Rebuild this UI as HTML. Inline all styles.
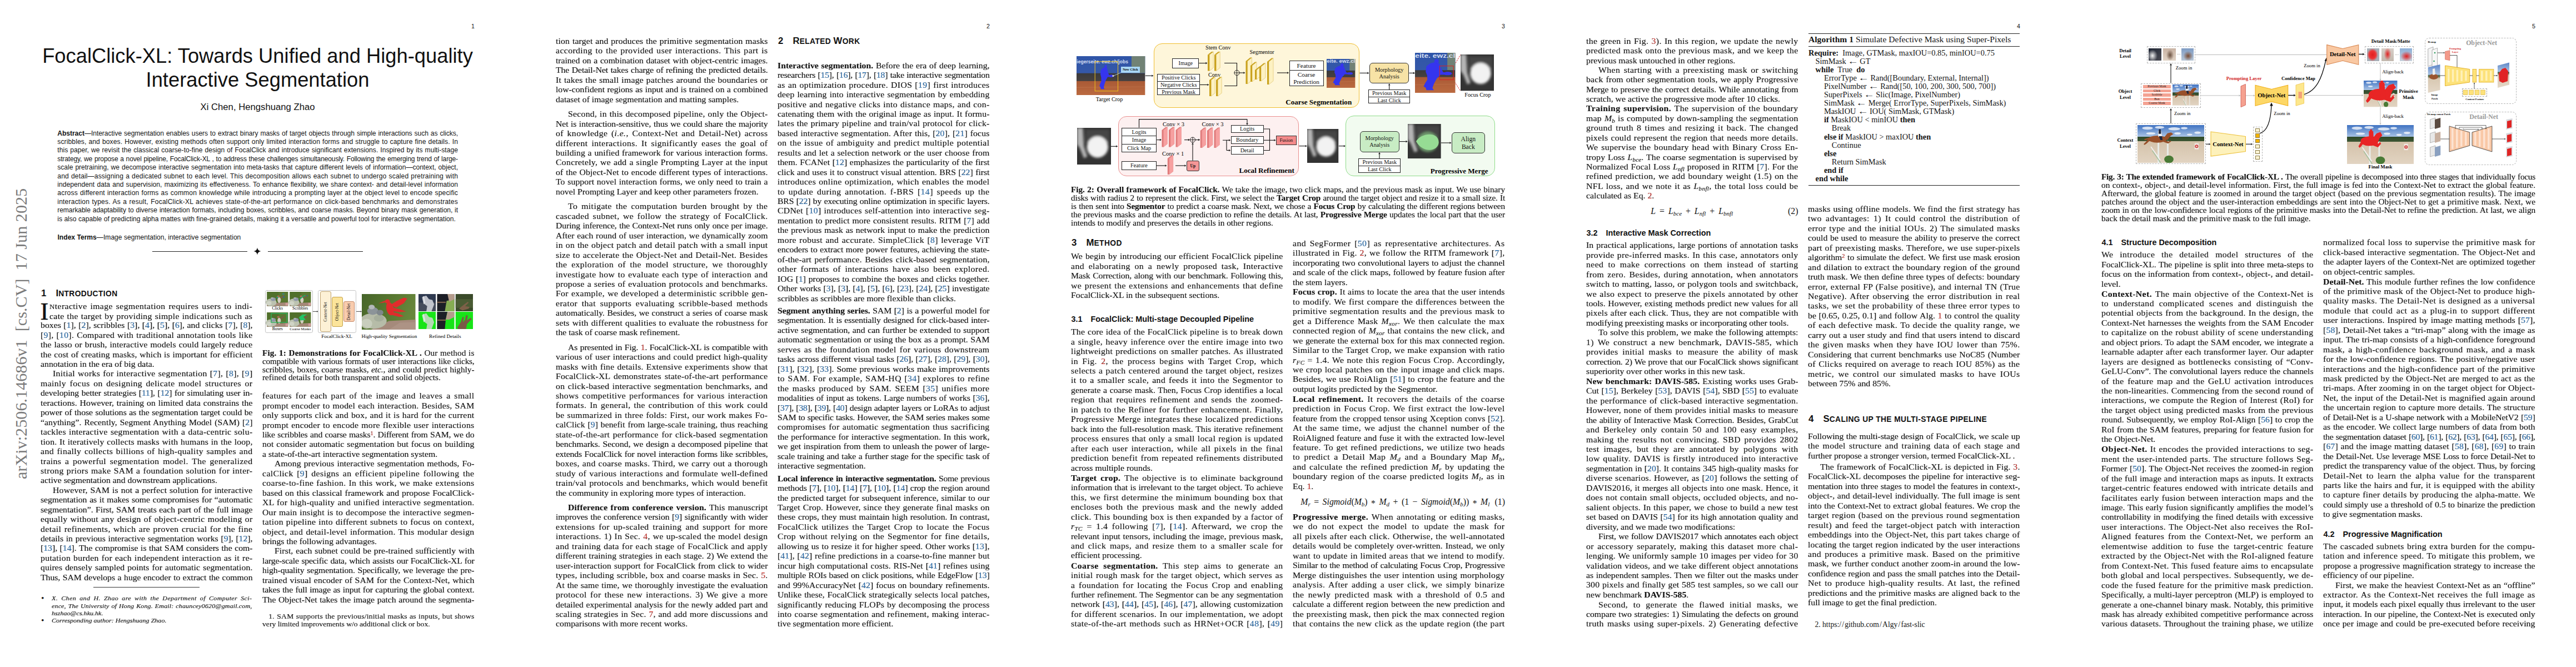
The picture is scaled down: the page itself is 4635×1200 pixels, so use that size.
<!DOCTYPE html><html><head><meta charset="utf-8"><title>FocalClick-XL</title><style>

*{margin:0;padding:0}
html,body{width:4635px;height:1200px;overflow:hidden;background:#fff}
body{position:relative;font-family:"Liberation Serif",serif;color:#111}
.pg{position:absolute;top:0;width:927px;height:1200px;overflow:hidden;background:#fff}
.ab{position:absolute}
.b{position:absolute;font-family:"Liberation Serif",serif;color:#141414;-webkit-text-stroke:0.15px #141414}
.b>div{white-space:nowrap;overflow:visible}
.b.sans{font-family:"Liberation Sans",sans-serif;-webkit-text-stroke:0}
.j{text-align:justify;text-align-last:justify}
.l{text-align:left}
.cb{color:#2a78c2}
.cr{color:#e0302a}
sup{font-size:65%;line-height:0;vertical-align:0.45em}
sub{font-size:70%;line-height:0;vertical-align:-0.25em}
i.m{font-style:italic}
.h1{position:absolute;font-family:"Liberation Sans",sans-serif;font-weight:bold;white-space:nowrap;color:#111}
.h2{position:absolute;font-family:"Liberation Sans",sans-serif;font-weight:bold;white-space:nowrap;color:#111}

</style></head><body>
<div class="pg" style="left:0px">
<div class="ab" style="right:73.00px;top:41.00px;font-family:'Liberation Sans',sans-serif;font-size:10.6px;line-height:12.719999999999999px;">1</div>
<div class="ab" style="left:0.00px;top:79.00px;width:927px;text-align:center;font-family:'Liberation Sans',sans-serif;font-size:36.35px;line-height:43.62px;letter-spacing:0px;">FocalClick-XL: Towards Unified and High-quality</div>
<div class="ab" style="left:0.00px;top:122.00px;width:927px;text-align:center;font-family:'Liberation Sans',sans-serif;font-size:36.35px;line-height:43.62px;">Interactive Segmentation</div>
<div class="ab" style="left:0.00px;top:183.00px;width:927px;text-align:center;font-family:'Liberation Sans',sans-serif;font-size:16.7px;line-height:20.04px;">Xi Chen, Hengshuang Zhao</div>
<div class="b sans " style="left:103.30px;top:232.50px;width:720.70px;font-size:12.1px;line-height:15.400px;">
<div id="t1" class="j" style="letter-spacing:-0.060px;"><b>Abstract</b>—Interactive segmentation enables users to extract binary masks of target objects through simple interactions such as clicks,</div>
<div id="t2" class="j" style="letter-spacing:0.096px;">scribbles, and boxes. However, existing methods often support only limited interaction forms and struggle to capture fine details. In</div>
<div id="t3" class="j" style="letter-spacing:0.025px;">this paper, we revisit the classical coarse-to-fine design of FocalClick and introduce significant extensions. Inspired by its multi-stage</div>
<div id="t4" class="j" style="letter-spacing:-0.170px;">strategy, we propose a novel pipeline, FocalClick-XL , to address these challenges simultaneously. Following the emerging trend of large-</div>
<div id="t5" class="j" style="letter-spacing:-0.038px;">scale pretraining, we decompose interactive segmentation into meta-tasks that capture different levels of information—context, object,</div>
<div id="t6" class="j" style="letter-spacing:0.123px;">and detail—assigning a dedicated subnet to each level. This decomposition allows each subnet to undergo scaled pretraining with</div>
<div id="t7" class="j" style="letter-spacing:0.035px;">independent data and supervision, maximizing its effectiveness. To enhance flexibility, we share context- and detail-level information</div>
<div id="t8" class="j" style="letter-spacing:0.153px;">across different interaction forms as common knowledge while introducing a prompting layer at the object level to encode specific</div>
<div id="t9" class="j" style="letter-spacing:0.180px;">interaction types. As a result, FocalClick-XL achieves state-of-the-art performance on click-based benchmarks and demonstrates</div>
<div id="t10" class="j" style="letter-spacing:-0.095px;">remarkable adaptability to diverse interaction formats, including boxes, scribbles, and coarse masks. Beyond binary mask generation, it</div>
<div id="t11" class="l">is also capable of predicting alpha mattes with fine-grained details, making it a versatile and powerful tool for interactive segmentation.</div>
</div>
<div class="ab" style="left:103.50px;top:420.40px;text-align:left;font-family:'Liberation Sans',sans-serif;font-size:12.1px;line-height:14.52px;"><b>Index Terms</b>—Image segmentation, interactive segmentation</div>
<div class="ab" style="left:273.9px;top:451.8px;width:171.3px;height:1px;background:#222"></div>
<div class="ab" style="left:481.6px;top:451.8px;width:171.4px;height:1px;background:#222"></div>
<svg class="ab" style="left:456px;top:445px" width="14" height="14" viewBox="0 0 14 14"><path d="M7 0.5 Q7.8 6.2 13.5 7 Q7.8 7.8 7 13.5 Q6.2 7.8 0.5 7 Q6.2 6.2 7 0.5Z" fill="#111"/></svg>
<div class="ab" style="left:47.2px;top:862px;transform-origin:0 0;transform:rotate(-90deg);font-family:'Liberation Serif',serif;font-size:30.2px;line-height:31px;white-space:nowrap;color:#7a7a7a"><span style="position:relative;top:-24.5px">arXiv:2506.14686v1&nbsp; [cs.CV]&nbsp; 17 Jun 2025</span></div>
<div class="h1" style="left:74.0px;top:517.70px;font-size:16.8px;line-height:20px"><span style="display:inline-block;width:26.5px">1</span>I<span style="font-size:13.8px;letter-spacing:0.4px">NTRODUCTION</span></div>
<div class="ab" style="left:72.4px;top:538.8px;font-family:'Liberation Serif',serif;font-size:44.2px;line-height:44.2px;color:#111;-webkit-text-stroke:0.5px #111">I</div>
<div class="b " style="left:89.30px;top:542.50px;width:332.91px;font-size:14.403px;line-height:17.450px;transform:scaleX(1.097);transform-origin:0 0;">
<div id="t12" class="j" style="letter-spacing:0.350px;"><span style="font-size:82%">N</span>teractive image segmentation requires users to indi-</div>
<div id="t13" class="j" style="letter-spacing:0.285px;">cate the target by providing simple indications such as</div>
</div>
<div class="b " style="left:73.00px;top:577.40px;width:347.77px;font-size:14.403px;line-height:17.450px;transform:scaleX(1.097);transform-origin:0 0;">
<div id="t14" class="j" style="letter-spacing:0.012px;">boxes [<span class=cb>1</span>], [<span class=cb>2</span>], scribbles [<span class=cb>3</span>], [<span class=cb>4</span>], [<span class=cb>5</span>], [<span class=cb>6</span>], and clicks [<span class=cb>7</span>], [<span class=cb>8</span>],</div>
<div id="t15" class="j" style="letter-spacing:0.249px;">[<span class=cb>9</span>], [<span class=cb>10</span>]. Compared with traditional annotation tools like</div>
<div id="t16" class="j" style="letter-spacing:0.128px;">the lasso or brush, interactive models could largely reduce</div>
<div id="t17" class="j" style="letter-spacing:0.105px;">the cost of creating masks, which is important for efficient</div>
<div id="t18" class="l">annotation in the era of big data.</div>
<div id="t19" class="j" style="text-indent:20.054694621695532px;margin-top:-0.20px;letter-spacing:0.291px;">Initial works for interactive segmentation [<span class=cb>7</span>], [<span class=cb>8</span>], [<span class=cb>9</span>]</div>
<div id="t20" class="j" style="letter-spacing:0.350px;">mainly focus on designing delicate model structures or</div>
<div id="t21" class="j" style="letter-spacing:-0.092px;">developing better strategies [<span class=cb>11</span>], [<span class=cb>12</span>] for simulating user in-</div>
<div id="t22" class="j" style="letter-spacing:0.037px;">teractions. However, training on limited data constrains the</div>
<div id="t23" class="j" style="letter-spacing:-0.075px;">power of those solutions as the segmentation target could be</div>
<div id="t24" class="j" style="letter-spacing:0.025px;">“anything”. Recently, Segment Anything Model (SAM) [<span class=cb>2</span>]</div>
<div id="t25" class="j" style="letter-spacing:0.257px;">tackles interactive segmentation with a data-centric solu-</div>
<div id="t26" class="j" style="letter-spacing:0.147px;">tion. It iteratively collects masks with humans in the loop,</div>
<div id="t27" class="j" style="letter-spacing:0.350px;">and finally collects billions of high-quality samples and</div>
<div id="t28" class="j" style="letter-spacing:0.350px;">trains a powerful segmentation model. The generalized</div>
<div id="t29" class="j" style="letter-spacing:0.347px;">strong priors make SAM a foundation solution for inter-</div>
<div id="t30" class="l">active segmentation and downstream applications.</div>
<div id="t31" class="j" style="text-indent:20.054694621695532px;margin-top:-0.20px;letter-spacing:0.164px;">However, SAM is not a perfect solution for interactive</div>
<div id="t32" class="j" style="letter-spacing:-0.056px;">segmentation as it makes some compromises for “automatic</div>
<div id="t33" class="j" style="letter-spacing:-0.039px;">segmentation”. First, SAM treats each part of the full image</div>
<div id="t34" class="j" style="letter-spacing:0.273px;">equally without any design of object-centric modeling or</div>
<div id="t35" class="j" style="letter-spacing:0.350px;">detail refinements, which are proven crucial for the fine</div>
<div id="t36" class="j" style="letter-spacing:-0.025px;">details in previous interactive segmentation works [<span class=cb>9</span>], [<span class=cb>12</span>],</div>
<div id="t37" class="j" style="letter-spacing:-0.037px;">[<span class=cb>13</span>], [<span class=cb>14</span>]. The compromise is that SAM considers the com-</div>
<div id="t38" class="j" style="letter-spacing:0.270px;">putation burden for each independent interaction as it re-</div>
<div id="t39" class="j" style="letter-spacing:0.085px;">quires densely sampled points for automatic segmentation.</div>
<div id="t40" class="j" style="letter-spacing:-0.050px;">Thus, SAM develops a huge encoder to extract the common</div>
</div>
<div class="ab" style="left:168px;top:1055.5px;width:190.5px;height:0.8px;background:#333"></div>
<div class="b " style="left:93.00px;top:1070.40px;width:328.62px;font-size:10.994px;line-height:13.270px;transform:scaleX(1.097);transform-origin:0 0;">
<div id="t41" class="j" style="letter-spacing:0.350px;"><i>X. Chen and H. Zhao are with the Department of Computer Sci-</i></div>
<div id="t42" class="j" style="letter-spacing:0.117px;"><i>ence, The University of Hong Kong. Email: chauncey0620@gmail.com,</i></div>
<div id="t43" class="l"><i>hszhao@cs.hku.hk.</i></div>
<div id="t44" class="l"><i>Corresponding author: Hengshuang Zhao.</i></div>
</div>
<div class="ab" style="left:74.00px;top:1067.20px;text-align:left;font-family:'Liberation Serif',serif;font-size:15.5px;line-height:18.599999999999998px;">•</div>
<div class="ab" style="left:74.00px;top:1107.10px;text-align:left;font-family:'Liberation Serif',serif;font-size:15.5px;line-height:18.599999999999998px;">•</div>
<div class="ab " style="left:477.3px;top:521.8px;width:85.4px;height:77.2px;border:1.2px dotted #8a8a8a;border-radius:4px;box-sizing:border-box;"></div>
<div class="ab " style="left:572.3px;top:521.8px;width:68.8px;height:77.2px;border:1.2px dotted #8a8a8a;border-radius:4px;box-sizing:border-box;"></div>
<svg class="ab" style="left:478.0px;top:523.0px" width="84.0" height="67.0" viewBox="478.0 523.0 84.0 67.0"><g transform="translate(480.20,525.00) scale(38.100,25.600)"><rect width="1" height="1" fill="#50702b"/><rect x="0.55" width="0.45" height="0.7" fill="#5c7c34" opacity="0.7"/><polygon points="0,0.8 1,0.74 1,1 0,1" fill="#a58878"/><rect x="0.88" y="0.78" width="0.12" height="0.18" fill="#d9a3a3" opacity="0.8"/><ellipse cx="0.2" cy="0.74" rx="0.26" ry="0.26" fill="#bcc2b0"/><ellipse cx="0.1" cy="0.8" rx="0.12" ry="0.15" fill="#d4d8cc" opacity="0.8"/><ellipse cx="0.3" cy="0.52" rx="0.12" ry="0.12" fill="#8d96a6"/><ellipse cx="0.25" cy="0.45" rx="0.07" ry="0.07" fill="#a8aeb0"/><ellipse cx="0.58" cy="0.58" rx="0.08" ry="0.2" fill="#d2cdc0"/><ellipse cx="0.54" cy="0.32" rx="0.06" ry="0.07" fill="#b06a55"/><polygon points="0.62,0.4 0.8,0.22 0.84,0.3 0.66,0.5" fill="#7a5a48" opacity="0.8"/></g><circle cx="499" cy="535" r="1.5" fill="#1fa080"/><circle cx="509.8" cy="529" r="1.4" fill="none" stroke="#2a8ab0" stroke-width="0.8"/><circle cx="510.8" cy="534.4" r="1.4" fill="#2a6a9a"/><g transform="translate(521.20,525.00) scale(38.100,25.600)"><rect width="1" height="1" fill="#50702b"/><rect x="0.55" width="0.45" height="0.7" fill="#5c7c34" opacity="0.7"/><polygon points="0,0.8 1,0.74 1,1 0,1" fill="#a58878"/><rect x="0.88" y="0.78" width="0.12" height="0.18" fill="#d9a3a3" opacity="0.8"/><ellipse cx="0.2" cy="0.74" rx="0.26" ry="0.26" fill="#bcc2b0"/><ellipse cx="0.1" cy="0.8" rx="0.12" ry="0.15" fill="#d4d8cc" opacity="0.8"/><ellipse cx="0.3" cy="0.52" rx="0.12" ry="0.12" fill="#8d96a6"/><ellipse cx="0.25" cy="0.45" rx="0.07" ry="0.07" fill="#a8aeb0"/><ellipse cx="0.58" cy="0.58" rx="0.08" ry="0.2" fill="#d2cdc0"/><ellipse cx="0.54" cy="0.32" rx="0.06" ry="0.07" fill="#b06a55"/><polygon points="0.62,0.4 0.8,0.22 0.84,0.3 0.66,0.5" fill="#7a5a48" opacity="0.8"/></g><path d="M539.5 538 L544 534 L549 531.5" stroke="#1faa66" stroke-width="1.8" fill="none" stroke-linecap="round"/><circle cx="553" cy="532" r="1.1" fill="#2a6a9a"/><g transform="translate(480.20,562.00) scale(38.100,25.800)"><rect width="1" height="1" fill="#50702b"/><rect x="0.55" width="0.45" height="0.7" fill="#5c7c34" opacity="0.7"/><polygon points="0,0.8 1,0.74 1,1 0,1" fill="#a58878"/><rect x="0.88" y="0.78" width="0.12" height="0.18" fill="#d9a3a3" opacity="0.8"/><ellipse cx="0.2" cy="0.74" rx="0.26" ry="0.26" fill="#bcc2b0"/><ellipse cx="0.1" cy="0.8" rx="0.12" ry="0.15" fill="#d4d8cc" opacity="0.8"/><ellipse cx="0.3" cy="0.52" rx="0.12" ry="0.12" fill="#8d96a6"/><ellipse cx="0.25" cy="0.45" rx="0.07" ry="0.07" fill="#a8aeb0"/><ellipse cx="0.58" cy="0.58" rx="0.08" ry="0.2" fill="#d2cdc0"/><ellipse cx="0.54" cy="0.32" rx="0.06" ry="0.07" fill="#b06a55"/><polygon points="0.62,0.4 0.8,0.22 0.84,0.3 0.66,0.5" fill="#7a5a48" opacity="0.8"/></g><rect x="488" y="563.8" width="28.2" height="16.2" fill="none" stroke="#2fb060" stroke-width="1.4"/><g transform="translate(521.20,562.00) scale(38.100,25.800)"><rect width="1" height="1" fill="#50702b"/><rect x="0.55" width="0.45" height="0.7" fill="#5c7c34" opacity="0.7"/><polygon points="0,0.8 1,0.74 1,1 0,1" fill="#a58878"/><rect x="0.88" y="0.78" width="0.12" height="0.18" fill="#d9a3a3" opacity="0.8"/><ellipse cx="0.2" cy="0.74" rx="0.26" ry="0.26" fill="#bcc2b0"/><ellipse cx="0.1" cy="0.8" rx="0.12" ry="0.15" fill="#d4d8cc" opacity="0.8"/><ellipse cx="0.3" cy="0.52" rx="0.12" ry="0.12" fill="#8d96a6"/><ellipse cx="0.25" cy="0.45" rx="0.07" ry="0.07" fill="#a8aeb0"/><ellipse cx="0.58" cy="0.58" rx="0.08" ry="0.2" fill="#d2cdc0"/><ellipse cx="0.54" cy="0.32" rx="0.06" ry="0.07" fill="#b06a55"/><polygon points="0.62,0.4 0.8,0.22 0.84,0.3 0.66,0.5" fill="#7a5a48" opacity="0.8"/></g><path d="M537.8 571 L544 566 L552.8 565.6 L546 570 L550 575.5 L541 576.4 Z" fill="#22c466"/></svg>
<div class="ab" style="left:299.2px;width:400px;text-align:center;top:549.8px;font-family:'Liberation Serif',serif;font-size:7.6px;line-height:9.12px;height:9.12px;white-space:nowrap;color:#000;">Clicks</div>
<div class="ab" style="left:340.2px;width:400px;text-align:center;top:549.8px;font-family:'Liberation Serif',serif;font-size:7.6px;line-height:9.12px;height:9.12px;white-space:nowrap;color:#000;">Scribbles</div>
<div class="ab" style="left:299.2px;width:400px;text-align:center;top:587.0px;font-family:'Liberation Serif',serif;font-size:7.6px;line-height:9.12px;height:9.12px;white-space:nowrap;color:#000;">Boxes</div>
<div class="ab" style="left:340.2px;width:400px;text-align:center;top:587.8px;font-family:'Liberation Serif',serif;font-size:6.7px;line-height:8.04px;height:8.04px;white-space:nowrap;color:#000;">Coarse Masks</div>
<svg class="ab" style="left:560.0px;top:555.0px" width="93.0" height="11.0" viewBox="560.0 555.0 93.0 11.0"><line x1="562.7" y1="560.4" x2="570.0" y2="560.4" stroke="#333" stroke-width="0.9"/><polygon points="572.5,560.4 570.0,561.8 570.0,559.0" fill="#333"/><line x1="641.1" y1="560.4" x2="648.5" y2="560.4" stroke="#333" stroke-width="0.9"/><polygon points="651.0,560.4 648.5,561.8 648.5,559.0" fill="#333"/></svg>
<div class="ab " style="left:575.7px;top:524.4px;width:20.0px;height:72.4px;background:#fdf1d6;border:1px solid #bfa26e;border-radius:3px;box-sizing:border-box;"></div>
<div class="ab" style="left:545.7px;top:555.6px;width:80px;height:10px;line-height:10px;text-align:center;font-family:'Liberation Serif',serif;font-size:7.2px;transform:rotate(-90deg)">Context-Net</div>
<div class="ab " style="left:597.2px;top:533.5px;width:19.4px;height:54.9px;background:#fce49a;border:1px solid #c4a24a;border-radius:3px;box-sizing:border-box;"></div>
<div class="ab" style="left:566.9px;top:556.0px;width:80px;height:10px;line-height:10px;text-align:center;font-family:'Liberation Serif',serif;font-size:7.2px;transform:rotate(-90deg)">Object-Net</div>
<div class="ab " style="left:618.0px;top:542.3px;width:19.5px;height:37.0px;background:#f9ccae;border:1px solid #c48a6a;border-radius:3px;box-sizing:border-box;"></div>
<div class="ab" style="left:587.8px;top:555.8px;width:80px;height:10px;line-height:10px;text-align:center;font-family:'Liberation Serif',serif;font-size:7.2px;transform:rotate(-90deg)">Detail-Net</div>
<svg class="ab" style="left:651.3px;top:528.6px" width="96.5" height="64.1" viewBox="651.3 528.6 96.5 64.1"><defs><linearGradient id="f1bg" x1="0" y1="0" x2="1" y2="0.3"><stop offset="0" stop-color="#46642a"/><stop offset="0.5" stop-color="#56762f"/><stop offset="1" stop-color="#67863c"/></linearGradient></defs><rect x="651.3" y="528.6" width="96.5" height="64.1" fill="url(#f1bg)"/><polygon points="668,592.7 700,577 747.8,574.5 747.8,592.7" fill="#a58a7b"/><polygon points="700,592.7 720,580 747.8,579 747.8,592.7" fill="#b39a8c" opacity="0.6"/><ellipse cx="672" cy="577" rx="24" ry="14" fill="#b6bca8"/><ellipse cx="660" cy="582" rx="10" ry="9" fill="#cdd2c2" opacity="0.8"/><ellipse cx="682" cy="572" rx="9" ry="6" fill="#a3aa98" opacity="0.8"/><ellipse cx="671" cy="559" rx="10" ry="7" fill="#8c9499"/><ellipse cx="669" cy="552" rx="5.5" ry="4.2" fill="#b4b9ba"/><ellipse cx="684" cy="562" rx="6" ry="5" fill="#7f878c"/><g fill="#e12c2c"><polygon points="693,540.5 681,545.5 693,543.5"/><ellipse cx="697.5" cy="542" rx="4.5" ry="3.8"/><ellipse cx="702" cy="555" rx="6.5" ry="12" transform="rotate(-12 702 555)"/><polygon points="703,548 714,541 727,535 733,536.5 727,545 713,553"/><polygon points="704,552 720,556 731,560 719,561 705,559"/><polygon points="703,560 716,563 727,568.5 718,569.5 705,566"/></g></svg>
<svg class="ab" style="left:752.7px;top:528.6px" width="98.3" height="63.4" viewBox="752.7 528.6 98.3 63.4"><svg x="752.7" y="528.5" width="31.30" height="31.10" viewBox="0 0 1 1" preserveAspectRatio="none" overflow="hidden"><rect width="1" height="1" fill="#2f3a50"/><rect y="0.5" width="1" height="0.5" fill="#454c5c"/><path d="M0.25 0.15 L0.45 0.1 L0.6 0.3 L0.8 0.35 L0.9 0.6 L0.75 1 L0.45 1 L0.5 0.7 L0.3 0.55 Z" fill="#d8dbe0" opacity="0.85"/><path d="M0.2 0.2 L0.3 0.12 L0.4 0.5 L0.3 0.6 Z" fill="#eef0f2" opacity="0.7"/></svg><svg x="786" y="528.5" width="31.40" height="31.10" viewBox="0 0 1 1" preserveAspectRatio="none" overflow="hidden"><rect width="1" height="1" fill="#1c1e26"/><polygon points="0.45,1 0.55,0.4 1,0.3 1,1" fill="#86ad52"/><polygon points="0.6,0.0 1,0 1,0.3 0.7,0.45" fill="#b59c8c"/><rect y="0.45" width="0.5" height="0.06" fill="#8a6a50"/></svg><svg x="819.2" y="528.5" width="31.80" height="31.10" viewBox="0 0 1 1" preserveAspectRatio="none" overflow="hidden"><rect width="1" height="1" fill="#3a4a2a"/><rect y="0.3" width="1" height="0.5" fill="#4a5c34"/><path d="M0.2 0.85 L0.5 0.6 L0.7 0.45 L0.75 0.5 L0.55 0.7 L0.8 0.75 L0.75 0.85 L0.4 0.95 Z" fill="#7d6048"/></svg><svg x="752.7" y="560.3" width="31.30" height="31.70" viewBox="0 0 1 1" preserveAspectRatio="none" overflow="hidden"><rect width="1" height="1" fill="#18e418"/><path d="M0.25 0.15 L0.45 0.1 L0.6 0.3 L0.8 0.35 L0.9 0.6 L0.75 1 L0.45 1 L0.5 0.7 L0.3 0.55 Z" fill="#d0d8d0" opacity="0.85"/><path d="M0.2 0.2 L0.3 0.12 L0.4 0.5 L0.3 0.6 Z" fill="#eef0f2" opacity="0.7"/></svg><svg x="786" y="560.3" width="31.40" height="31.70" viewBox="0 0 1 1" preserveAspectRatio="none" overflow="hidden"><rect width="1" height="1" fill="#18e418"/><polygon points="0,0 0.6,0 0.5,0.45 0.45,1 0,1" fill="#1c1e26"/><polygon points="0.6,0.0 1,0 1,0.3 0.7,0.45 0.5,0.45" fill="#b59c8c"/><rect y="0.45" width="0.5" height="0.06" fill="#8a6a50"/></svg><svg x="819.2" y="560.3" width="31.80" height="31.70" viewBox="0 0 1 1" preserveAspectRatio="none" overflow="hidden"><rect width="1" height="1" fill="#18e418"/><path d="M0.1 0.9 L0.3 0.6 L0.4 0.3 L0.48 0.32 L0.42 0.6 L0.55 0.45 L0.6 0.2 L0.7 0.22 L0.65 0.5 L0.85 0.35 L0.92 0.42 L0.65 0.7 L0.6 1 L0.15 1 Z" fill="#7a5a46"/></svg></svg>
<div class="ab" style="left:406.0px;width:400px;text-align:center;top:599.5px;font-family:'Liberation Serif',serif;font-size:9.2px;line-height:11.04px;height:11.04px;white-space:nowrap;color:#000;">FocalClick-XL</div>
<div class="ab" style="left:500.4px;width:400px;text-align:center;top:599.5px;font-family:'Liberation Serif',serif;font-size:9.2px;line-height:11.04px;height:11.04px;white-space:nowrap;color:#000;">High-quality Segmentation</div>
<div class="ab" style="left:600.8px;width:400px;text-align:center;top:599.5px;font-family:'Liberation Serif',serif;font-size:9.2px;line-height:11.04px;height:11.04px;white-space:nowrap;color:#000;">Refined Details</div>
<div class="b " style="left:472.00px;top:629.00px;width:347.77px;font-size:13.902px;line-height:14.830px;transform:scaleX(1.097);transform-origin:0 0;">
<div id="t45" class="j" style="letter-spacing:0.100px;"><b>Fig. 1: Demonstrations for FocalClick-XL .</b> Our method is</div>
<div id="t46" class="j" style="letter-spacing:-0.172px;">compatible with various formats of user interactions like clicks,</div>
<div id="t47" class="j" style="letter-spacing:-0.006px;">scribbles, boxes, coarse masks, <i>etc.</i>, and could predict highly-</div>
<div id="t48" class="l">refined details for both transparent and solid objects.</div>
</div>
<div class="b " style="left:472.00px;top:704.20px;width:347.77px;font-size:14.403px;line-height:17.450px;transform:scaleX(1.097);transform-origin:0 0;">
<div id="t49" class="j" style="letter-spacing:0.350px;">features for each part of the image and leaves a small</div>
<div id="t50" class="j" style="letter-spacing:0.223px;">prompt encoder to model each interaction. Besides, SAM</div>
<div id="t51" class="j" style="letter-spacing:0.265px;">only supports click and box, and it is hard for the current</div>
<div id="t52" class="j" style="letter-spacing:0.244px;">prompt encoder to encode more flexible user interactions</div>
<div id="t53" class="j" style="letter-spacing:-0.183px;">like scribbles and coarse masks<sup class=cr>1</sup>. Different from SAM, we do</div>
<div id="t54" class="j" style="letter-spacing:0.085px;">not consider automatic segmentation but focus on building</div>
<div id="t55" class="l">a state-of-the-art interactive segmentation system.</div>
<div id="t56" class="j" style="text-indent:20.054694621695532px;margin-top:-0.03px;letter-spacing:0.044px;">Among previous interactive segmentation methods, Fo-</div>
<div id="t57" class="j" style="letter-spacing:0.350px;">calClick [<span class=cb>9</span>] designs an efficient pipeline following the</div>
<div id="t58" class="j" style="letter-spacing:0.301px;">coarse-to-fine fashion. In this work, we make extensions</div>
<div id="t59" class="j" style="letter-spacing:0.057px;">based on this classical framework and propose FocalClick-</div>
<div id="t60" class="j" style="letter-spacing:0.221px;">XL for high-quality and unified interactive segmentation.</div>
<div id="t61" class="j" style="letter-spacing:0.194px;">Our main insight is to decompose the interactive segmen-</div>
<div id="t62" class="j" style="letter-spacing:0.290px;">tation pipeline into different subnets to focus on context,</div>
<div id="t63" class="j" style="letter-spacing:0.251px;">object, and detail-level information. This modular design</div>
<div id="t64" class="l">brings the following advantages.</div>
<div id="t65" class="j" style="text-indent:20.054694621695532px;margin-top:-0.03px;letter-spacing:0.073px;">First, each subnet could be pre-trained sufficiently with</div>
<div id="t66" class="j" style="letter-spacing:-0.186px;">large-scale specific data, which assists our FocalClick-XL for</div>
<div id="t67" class="j" style="letter-spacing:-0.121px;">high-quality segmentation. Specifically, we leverage the pre-</div>
<div id="t68" class="j" style="letter-spacing:0.115px;">trained visual encoder of SAM for the Context-Net, which</div>
<div id="t69" class="j" style="letter-spacing:-0.126px;">takes the full image as input for capturing the global context.</div>
<div id="t70" class="j" style="letter-spacing:-0.047px;">The Object-Net takes the image patch around the segmenta-</div>
</div>
<div class="b " style="left:472.00px;top:1103.20px;width:347.77px;font-size:12.443px;line-height:13.600px;transform:scaleX(1.097);transform-origin:0 0;">
<div id="t71" class="j" style="text-indent:10.300820419325435px;letter-spacing:0.215px;">1. SAM supports the previous/initial masks as inputs, but shows</div>
<div id="t72" class="l">very limited improvements w/o additional click or box.</div>
</div>
</div>
<div class="pg" style="left:927px">
<div class="ab" style="right:73.00px;top:41.00px;font-family:'Liberation Sans',sans-serif;font-size:10.6px;line-height:12.719999999999999px;">2</div>
<div class="b " style="left:73.00px;top:66.00px;width:347.77px;font-size:14.403px;line-height:17.450px;transform:scaleX(1.097);transform-origin:0 0;">
<div id="t73" class="j" style="letter-spacing:0.118px;">tion target and produces the primitive segmentation masks</div>
<div id="t74" class="j" style="letter-spacing:0.350px;">according to the provided user interactions. This part is</div>
<div id="t75" class="j" style="letter-spacing:-0.072px;">trained on a combination dataset with object-centric images.</div>
<div id="t76" class="j" style="letter-spacing:-0.110px;">The Detail-Net takes charge of refining the predicted details.</div>
<div id="t77" class="j" style="letter-spacing:0.212px;">It takes the small image patches around the boundaries or</div>
<div id="t78" class="j" style="letter-spacing:-0.040px;">low-confident regions as input and is trained on a combined</div>
<div id="t79" class="l">dataset of image segmentation and matting samples.</div>
<div id="t80" class="j" style="text-indent:20.054694621695532px;margin-top:9.05px;letter-spacing:0.216px;">Second, in this decomposed pipeline, only the Object-</div>
<div id="t81" class="j" style="letter-spacing:-0.102px;">Net is interaction-sensitive, thus we could share the majority</div>
<div id="t82" class="j" style="letter-spacing:0.350px;">of knowledge (<i>i.e.</i>, Context-Net and Detail-Net) across</div>
<div id="t83" class="j" style="letter-spacing:0.350px;">different interactions. It significantly eases the goal of</div>
<div id="t84" class="j" style="letter-spacing:0.022px;">building a unified framework for various interaction forms.</div>
<div id="t85" class="j" style="letter-spacing:0.253px;">Concretely, we add a single Prompting Layer at the input</div>
<div id="t86" class="j" style="letter-spacing:0.099px;">of the Object-Net to encode different types of interactions.</div>
<div id="t87" class="j" style="letter-spacing:0.072px;">To support novel interaction forms, we only need to train a</div>
<div id="t88" class="l">novel Prompting Layer and keep other parameters frozen.</div>
<div id="t89" class="j" style="text-indent:20.054694621695532px;margin-top:9.05px;letter-spacing:0.350px;">To mitigate the computation burden brought by the</div>
<div id="t90" class="j" style="letter-spacing:0.350px;">cascaded subnet, we follow the strategy of FocalClick.</div>
<div id="t91" class="j" style="letter-spacing:-0.127px;">During inference, the Context-Net runs only once per image.</div>
<div id="t92" class="j" style="letter-spacing:0.044px;">After each round of user interaction, we dynamically zoom</div>
<div id="t93" class="j" style="letter-spacing:0.291px;">in on the object patch and detail patch with a small input</div>
<div id="t94" class="j" style="letter-spacing:0.262px;">size to accelerate the Object-Net and Detail-Net. Besides</div>
<div id="t95" class="j" style="letter-spacing:0.350px;">the exploration of the model structure, we thoroughly</div>
<div id="t96" class="j" style="letter-spacing:0.350px;">investigate how to evaluate each type of interaction and</div>
<div id="t97" class="j" style="letter-spacing:0.237px;">propose a series of evaluation protocols and benchmarks.</div>
<div id="t98" class="j" style="letter-spacing:0.300px;">For example, we developed a deterministic scribble gen-</div>
<div id="t99" class="j" style="letter-spacing:0.350px;">erator that supports evaluating scribble-based methods</div>
<div id="t100" class="j" style="letter-spacing:-0.057px;">automatically. Besides, we construct a series of coarse mask</div>
<div id="t101" class="j" style="letter-spacing:0.238px;">sets with different qualities to evaluate the robustness for</div>
<div id="t102" class="l">the task of coarse mask refinement.</div>
<div id="t103" class="j" style="text-indent:20.054694621695532px;margin-top:9.05px;letter-spacing:-0.136px;">As presented in Fig. <span class=cr>1</span>. FocalClick-XL is compatible with</div>
<div id="t104" class="j" style="letter-spacing:0.150px;">various of user interactions and could predict high-quality</div>
<div id="t105" class="j" style="letter-spacing:0.236px;">masks with fine details. Extensive experiments show that</div>
<div id="t106" class="j" style="letter-spacing:0.201px;">FocalClick-XL demonstrates state-of-the-art performance</div>
<div id="t107" class="j" style="letter-spacing:0.242px;">on click-based interactive segmentation benchmarks, and</div>
<div id="t108" class="j" style="letter-spacing:0.350px;">shows competitive performances for various interaction</div>
<div id="t109" class="j" style="letter-spacing:0.350px;">formats. In general, the contribution of this work could</div>
<div id="t110" class="j" style="letter-spacing:0.328px;">be summarized in three folds: First, our work makes Fo-</div>
<div id="t111" class="j" style="letter-spacing:0.012px;">calClick [<span class=cb>9</span>] benefit from large-scale training, thus reaching</div>
<div id="t112" class="j" style="letter-spacing:0.192px;">state-of-the-art performance for click-based segmentation</div>
<div id="t113" class="j" style="letter-spacing:-0.042px;">benchmarks. Second, we design a decomposed pipeline that</div>
<div id="t114" class="j" style="letter-spacing:-0.160px;">extends FocalClick for novel interaction forms like scribbles,</div>
<div id="t115" class="j" style="letter-spacing:0.318px;">boxes, and coarse masks. Third, we carry out a thorough</div>
<div id="t116" class="j" style="letter-spacing:0.337px;">study of various interactions and formulate well-defined</div>
<div id="t117" class="j" style="letter-spacing:0.263px;">train/val protocols and benchmarks, which would benefit</div>
<div id="t118" class="l">the community in exploring more types of interaction.</div>
<div id="t119" class="j" style="text-indent:20.054694621695532px;margin-top:9.05px;letter-spacing:0.144px;"><b>Difference from conference version.</b> This manuscript</div>
<div id="t120" class="j" style="letter-spacing:-0.106px;">improves the conference version [<span class=cb>9</span>] significantly with wider</div>
<div id="t121" class="j" style="letter-spacing:0.350px;">extensions for up-scaled training and support for more</div>
<div id="t122" class="j" style="letter-spacing:0.302px;">interactions. 1) In Sec. <span class=cr>4</span>, we up-scaled the model design</div>
<div id="t123" class="j" style="letter-spacing:0.350px;">and training data for each stage of FocalClick and apply</div>
<div id="t124" class="j" style="letter-spacing:0.075px;">different training strategies in each stage. 2) We extend the</div>
<div id="t125" class="j" style="letter-spacing:0.074px;">user-interaction support for FocalClick from click to wider</div>
<div id="t126" class="j" style="letter-spacing:0.193px;">types, including scribble, box and coarse masks in Sec. <span class=cr>5</span>.</div>
<div id="t127" class="j" style="letter-spacing:0.056px;">At the same time, we thoroughly investigate the evaluation</div>
<div id="t128" class="j" style="letter-spacing:0.350px;">protocol for these new interactions. 3) We give a more</div>
<div id="t129" class="j">detailed experimental analysis for the newly added part and</div>
<div id="t130" class="j" style="letter-spacing:0.193px;">scaling strategies in Sec. <span class=cr>7</span>, and add more discussions and</div>
<div id="t131" class="l">comparisons with more recent works.</div>
</div>
<div class="h1" style="left:473.0px;top:63.80px;font-size:16.8px;line-height:20px"><span style="display:inline-block;width:26.5px">2</span>R<span style="font-size:13.8px;letter-spacing:0.4px">ELATED <span style="font-size:16.8px">W</span>ORK</span></div>
<div class="b " style="left:472.00px;top:109.70px;width:347.77px;font-size:14.403px;line-height:17.450px;transform:scaleX(1.097);transform-origin:0 0;">
<div id="t132" class="j" style="letter-spacing:0.015px;"><b>Interactive segmentation.</b> Before the era of deep learning,</div>
<div id="t133" class="j" style="letter-spacing:-0.242px;">researchers [<span class=cb>15</span>], [<span class=cb>16</span>], [<span class=cb>17</span>], [<span class=cb>18</span>] take interactive segmentation</div>
<div id="t134" class="j" style="letter-spacing:0.308px;">as an optimization procedure. DIOS [<span class=cb>19</span>] first introduces</div>
<div id="t135" class="j" style="letter-spacing:0.151px;">deep learning into interactive segmentation by embedding</div>
<div id="t136" class="j" style="letter-spacing:0.268px;">positive and negative clicks into distance maps, and con-</div>
<div id="t137" class="j" style="letter-spacing:0.089px;">catenating them with the original image as input. It formu-</div>
<div id="t138" class="j" style="letter-spacing:0.195px;">lates the primary pipeline and train/val protocol for click-</div>
<div id="t139" class="j" style="letter-spacing:0.114px;">based interactive segmentation. After this, [<span class=cb>20</span>], [<span class=cb>21</span>] focus</div>
<div id="t140" class="j" style="letter-spacing:0.350px;">on the issue of ambiguity and predict multiple potential</div>
<div id="t141" class="j" style="letter-spacing:0.130px;">results and let a selection network or the user choose from</div>
<div id="t142" class="j" style="letter-spacing:0.028px;">them. FCANet [<span class=cb>12</span>] emphasizes the particularity of the first</div>
<div id="t143" class="j" style="letter-spacing:-0.025px;">click and uses it to construct visual attention. BRS [<span class=cb>22</span>] first</div>
<div id="t144" class="j" style="letter-spacing:0.306px;">introduces online optimization, which enables the model</div>
<div id="t145" class="j" style="letter-spacing:0.350px;">to update during annotation. f-BRS [<span class=cb>14</span>] speeds up the</div>
<div id="t146" class="j" style="letter-spacing:-0.170px;">BRS [<span class=cb>22</span>] by executing online optimization in specific layers.</div>
<div id="t147" class="j" style="letter-spacing:0.228px;">CDNet [<span class=cb>10</span>] introduces self-attention into interactive seg-</div>
<div id="t148" class="j" style="letter-spacing:0.056px;">mentation to predict more consistent results. RITM [<span class=cb>7</span>] add</div>
<div id="t149" class="j" style="letter-spacing:0.099px;">the previous mask as network input to make the prediction</div>
<div id="t150" class="j" style="letter-spacing:0.350px;">more robust and accurate. SimpleClick [<span class=cb>8</span>] leverage ViT</div>
<div id="t151" class="j" style="letter-spacing:-0.116px;">encoders to extract more power features, achieving the state-</div>
<div id="t152" class="j" style="letter-spacing:0.121px;">of-the-art performance. Besides click-based segmentation,</div>
<div id="t153" class="j" style="letter-spacing:0.350px;">other formats of interactions have also been explored.</div>
<div id="t154" class="j" style="letter-spacing:0.008px;">IOG [<span class=cb>1</span>] proposes to combine the boxes and clicks together.</div>
<div id="t155" class="j" style="letter-spacing:-0.074px;">Other works [<span class=cb>3</span>], [<span class=cb>3</span>], [<span class=cb>4</span>], [<span class=cb>5</span>], [<span class=cb>6</span>], [<span class=cb>23</span>], [<span class=cb>24</span>], [<span class=cb>25</span>] investigate</div>
<div id="t156" class="l">scribbles as scribbles are more flexible than clicks.</div>
<div id="t157" class="j" style="margin-top:4.97px;letter-spacing:-0.064px;"><b>Segment anything series.</b> SAM [<span class=cb>2</span>] is a powerful model for</div>
<div id="t158" class="j" style="letter-spacing:-0.102px;">segmentation. It is essentially designed for click-based inter-</div>
<div id="t159" class="j" style="letter-spacing:-0.012px;">active segmentation, and can further be extended to support</div>
<div id="t160" class="j" style="letter-spacing:-0.007px;">automatic segmentation or using the box as a prompt. SAM</div>
<div id="t161" class="j" style="letter-spacing:0.350px;">serves as the foundation model for various downstream</div>
<div id="t162" class="j" style="letter-spacing:-0.075px;">tasks across different visual tasks [<span class=cb>26</span>], [<span class=cb>27</span>], [<span class=cb>28</span>], [<span class=cb>29</span>], [<span class=cb>30</span>],</div>
<div id="t163" class="j" style="letter-spacing:0.066px;">[<span class=cb>31</span>], [<span class=cb>32</span>], [<span class=cb>33</span>]. Some previous works make improvements</div>
<div id="t164" class="j" style="letter-spacing:0.350px;">to SAM. For example, SAM-HQ [<span class=cb>34</span>] explores to refine</div>
<div id="t165" class="j" style="letter-spacing:0.350px;">the masks produced by SAM. SEEM [<span class=cb>35</span>] unifies more</div>
<div id="t166" class="j" style="letter-spacing:-0.036px;">modalities of input as tokens. Large numbers of works [<span class=cb>36</span>],</div>
<div id="t167" class="j" style="letter-spacing:-0.215px;">[<span class=cb>37</span>], [<span class=cb>38</span>], [<span class=cb>39</span>], [<span class=cb>40</span>] design adapter layers or LoRAs to adjust</div>
<div id="t168" class="j" style="letter-spacing:-0.242px;">SAM to specific tasks. However, the SAM series makes some</div>
<div id="t169" class="j" style="letter-spacing:0.234px;">compromises for automatic segmentation thus sacrificing</div>
<div id="t170" class="j" style="letter-spacing:0.056px;">the performance for interactive segmentation. In this work,</div>
<div id="t171" class="j">we get inspiration from them to unleash the power of large-</div>
<div id="t172" class="j" style="letter-spacing:-0.073px;">scale training and take a further stage for the specific task of</div>
<div id="t173" class="l">interactive segmentation.</div>
<div id="t174" class="j" style="margin-top:4.97px;letter-spacing:-0.257px;"><b>Local inference in interactive segmentation.</b> Some previous</div>
<div id="t175" class="j" style="letter-spacing:-0.096px;">methods [<span class=cb>7</span>], [<span class=cb>10</span>], [<span class=cb>14</span>] [<span class=cb>7</span>], [<span class=cb>10</span>], [<span class=cb>14</span>] crop the region around</div>
<div id="t176" class="j" style="letter-spacing:0.032px;">the predicted target for subsequent inference, similar to our</div>
<div id="t177" class="j" style="letter-spacing:0.170px;">Target Crop. However, since they generate final masks on</div>
<div id="t178" class="j" style="letter-spacing:-0.026px;">these crops, they must maintain high resolution. In contrast,</div>
<div id="t179" class="j" style="letter-spacing:0.350px;">FocalClick utilizes the Target Crop to locate the Focus</div>
<div id="t180" class="j" style="letter-spacing:0.350px;">Crop without relying on the Segmentor for fine details,</div>
<div id="t181" class="j" style="letter-spacing:0.088px;">allowing us to resize it for higher speed. Other works [<span class=cb>13</span>],</div>
<div id="t182" class="j" style="letter-spacing:0.095px;">[<span class=cb>41</span>], [<span class=cb>42</span>] refine predictions in a coarse-to-fine manner but</div>
<div id="t183" class="j" style="letter-spacing:0.090px;">incur high computational costs. RIS-Net [<span class=cb>41</span>] refines using</div>
<div id="t184" class="j" style="letter-spacing:-0.176px;">multiple ROIs based on click positions, while EdgeFlow [<span class=cb>13</span>]</div>
<div id="t185" class="j" style="letter-spacing:0.046px;">and 99%AccuracyNet [<span class=cb>42</span>] focus on boundary refinements.</div>
<div id="t186" class="j" style="letter-spacing:0.034px;">Unlike these, FocalClick strategically selects local patches,</div>
<div id="t187" class="j" style="letter-spacing:0.109px;">significantly reducing FLOPs by decomposing the process</div>
<div id="t188" class="j" style="letter-spacing:0.202px;">into coarse segmentation and refinement, making interac-</div>
<div id="t189" class="l">tive segmentation more efficient.</div>
</div>
</div>
<div class="pg" style="left:1854px">
<div class="ab" style="right:73.00px;top:41.00px;font-family:'Liberation Sans',sans-serif;font-size:10.6px;line-height:12.719999999999999px;">3</div>
<div class="ab " style="left:221.9px;top:77.8px;width:370.0px;height:116.5px;background:#fef6da;border:1.8px solid #f0bd2e;border-radius:15px;box-sizing:border-box;"></div>
<svg class="ab" style="left:83.1px;top:100.8px" width="123.6" height="70.5" viewBox="1937.1 100.8 123.6 70.5"><svg x="1937.1" y="100.8" width="123.6" height="70.5" viewBox="1937.1 100.8 123.6 70.5" overflow="hidden"><defs><linearGradient id="g1" x1="0" y1="0" x2="0" y2="1"><stop offset="0" stop-color="#2f55a8"/><stop offset="0.43" stop-color="#3558a8"/><stop offset="0.44" stop-color="#3b3a3c"/><stop offset="0.63" stop-color="#464140"/><stop offset="0.64" stop-color="#a95a36"/><stop offset="1" stop-color="#bb6a40"/></linearGradient></defs><rect x="1937.1" y="100.8" width="123.6" height="70.5" fill="url(#g1)"/><rect x="2036.0" y="100.8" width="24.7" height="30.3" fill="#7d8a6c" opacity="0.85"/><line x1="1937.1" y1="157.2" x2="2060.7" y2="155.8" stroke="#cf8a60" stroke-width="0.6" opacity="0.6"/><text x="1937.4" y="113.4" font-family="Liberation Sans" font-weight="bold" font-size="8.3" fill="#d6dff2" textLength="92.6" lengthAdjust="spacingAndGlyphs">iegerseite. ewz.ch/jobs</text><polygon points="1987.4,120.8 1992.1,122.2 1993.6,129.6 1995.7,134.8 1997.8,134.8 1997.8,138.2 1993.1,138.2 1991.8,140.9 1990.0,143.5 1987.4,151.3 1986.1,157.0 1987.4,160.0 1980.9,160.0 1980.1,156.5 1978.3,154.8 1979.6,150.4 1981.7,145.2 1981.4,139.1 1980.1,133.9 1980.9,126.1 1984.3,122.2" fill="#3535ee"/><ellipse cx="1989.7" cy="119.3" rx="1.9" ry="3.0" fill="#3535ee"/><ellipse cx="1999.6" cy="136.5" rx="3.6" ry="2.4" fill="#3535ee"/><rect x="1970.3" y="110.5" width="41.3" height="53.1" fill="none" stroke="#f2c21a" stroke-width="1"/><line x1="2003" y1="136.5" x2="2017" y2="130.5" stroke="#b9def5" stroke-width="0.8"/><circle cx="2003" cy="136.3" r="1.6" fill="#ddd"/></svg></svg>
<div class="ab " style="left:162.8px;top:120.3px;width:34.2px;height:10.5px;background:#a9d7f5;font-family:'Liberation Serif',serif;font-weight:bold;font-size:6.3px;line-height:10.5px;text-align:center;white-space:nowrap">New Click</div>
<div class="ab" style="left:-58.0px;width:400px;text-align:center;top:172.9px;font-family:'Liberation Serif',serif;font-size:10.2px;line-height:12.24px;height:12.24px;white-space:nowrap;color:#000;">Target Crop</div>
<div class="ab " style="left:255.4px;top:104.5px;width:47.9px;height:18.1px;background:#fff;border:0.9px solid #222;box-sizing:border-box;font-family:'Liberation Serif',serif;font-size:10.2px;line-height:16.5px;text-align:center">Image</div>
<div class="ab " style="left:228.3px;top:133.3px;width:76.8px;height:13.6px;background:#fff;border:0.9px solid #222;box-sizing:border-box;font-family:'Liberation Serif',serif;font-size:10.2px;line-height:11.2px;text-align:center;white-space:nowrap;color:#111">Positive Clicks</div>
<div class="ab " style="left:228.3px;top:146.0px;width:76.8px;height:13.6px;background:#fff;border:0.9px solid #222;box-sizing:border-box;font-family:'Liberation Serif',serif;font-size:10.2px;line-height:11.2px;text-align:center;white-space:nowrap;color:#111">Negative Clicks</div>
<div class="ab " style="left:228.3px;top:158.6px;width:76.8px;height:12.7px;background:#fff;border:0.9px solid #222;box-sizing:border-box;font-family:'Liberation Serif',serif;font-size:10.2px;line-height:11.2px;text-align:center;white-space:nowrap;color:#111">Previous Mask</div>
<div class="ab" style="left:137.8px;width:400px;text-align:center;top:80.4px;font-family:'Liberation Serif',serif;font-size:10.2px;line-height:12.24px;height:12.24px;white-space:nowrap;color:#000;">Stem Conv</div>
<div class="ab" style="left:131.0px;width:400px;text-align:center;top:128.7px;font-family:'Liberation Serif',serif;font-size:10.2px;line-height:12.24px;height:12.24px;white-space:nowrap;color:#000;">Conv</div>
<div class="ab" style="left:216.7px;width:400px;text-align:center;top:88.2px;font-family:'Liberation Serif',serif;font-size:10.2px;line-height:12.24px;height:12.24px;white-space:nowrap;color:#000;">Segmentor</div>
<svg class="ab" style="left:196.0px;top:80.0px" width="590.0" height="100.0" viewBox="2050.0 80.0 590.0 100.0"><polygon points="2176.2,98.5 2183.2,92.9 2183.2,121.9 2176.2,127.5" fill="#fdf1c2" stroke="#c9a21e" stroke-width="0.4"/><rect x="2173.0" y="98.5" width="3.2" height="29.0" fill="#c9a21e"/><polygon points="2173.0,98.5 2180.0,92.9 2183.2,92.9 2176.2,98.5" fill="#c9a21e"/><polygon points="2188.2,98.5 2195.2,92.9 2195.2,121.9 2188.2,127.5" fill="#fdf1c2" stroke="#c9a21e" stroke-width="0.4"/><rect x="2185.0" y="98.5" width="3.2" height="29.0" fill="#c9a21e"/><polygon points="2185.0,98.5 2192.0,92.9 2195.2,92.9 2188.2,98.5" fill="#c9a21e"/><polygon points="2179.2,144.0 2186.2,138.4 2186.2,167.4 2179.2,173.0" fill="#fdf1c2" stroke="#c9a21e" stroke-width="0.4"/><rect x="2176.0" y="144.0" width="3.2" height="29.0" fill="#c9a21e"/><polygon points="2176.0,144.0 2183.0,138.4 2186.2,138.4 2179.2,144.0" fill="#c9a21e"/><polygon points="2191.2,144.0 2198.2,138.4 2198.2,167.4 2191.2,173.0" fill="#fdf1c2" stroke="#c9a21e" stroke-width="0.4"/><rect x="2188.0" y="144.0" width="3.2" height="29.0" fill="#c9a21e"/><polygon points="2188.0,144.0 2195.0,138.4 2198.2,138.4 2191.2,144.0" fill="#c9a21e"/><polygon points="2244.5,110.0 2252.5,103.6 2252.5,144.6 2244.5,151.0" fill="#fdf1c2" stroke="#c9a21e" stroke-width="0.4"/><rect x="2241.5" y="110.0" width="3.0" height="41.0" fill="#c9a21e"/><polygon points="2241.5,110.0 2249.5,103.6 2252.5,103.6 2244.5,110.0" fill="#c9a21e"/><polygon points="2253.0,118.0 2261.0,111.6 2261.0,140.6 2253.0,147.0" fill="#fdf1c2" stroke="#c9a21e" stroke-width="0.4"/><rect x="2250.0" y="118.0" width="3.0" height="29.0" fill="#c9a21e"/><polygon points="2250.0,118.0 2258.0,111.6 2261.0,111.6 2253.0,118.0" fill="#c9a21e"/><polygon points="2261.0,126.0 2269.0,119.6 2269.0,136.6 2261.0,143.0" fill="#fdf1c2" stroke="#c9a21e" stroke-width="0.4"/><rect x="2258.0" y="126.0" width="3.0" height="17.0" fill="#c9a21e"/><polygon points="2258.0,126.0 2266.0,119.6 2269.0,119.6 2261.0,126.0" fill="#c9a21e"/><polygon points="2269.0,120.0 2277.0,113.6 2277.0,139.6 2269.0,146.0" fill="#fdf1c2" stroke="#c9a21e" stroke-width="0.4"/><rect x="2266.0" y="120.0" width="3.0" height="26.0" fill="#c9a21e"/><polygon points="2266.0,120.0 2274.0,113.6 2277.0,113.6 2269.0,120.0" fill="#c9a21e"/><polygon points="2283.0,111.0 2291.0,104.6 2291.0,145.6 2283.0,152.0" fill="#fdf1c2" stroke="#c9a21e" stroke-width="0.4"/><rect x="2280.0" y="111.0" width="3.0" height="41.0" fill="#c9a21e"/><polygon points="2280.0,111.0 2288.0,104.6 2291.0,104.6 2283.0,111.0" fill="#c9a21e"/><line x1="2157.3" y1="113.6" x2="2169.3" y2="113.6" stroke="#111" stroke-width="1.1"/><polygon points="2172.5,113.6 2169.3,115.4 2169.3,111.8" fill="#111"/><line x1="2159.1" y1="152.5" x2="2172.3" y2="152.5" stroke="#111" stroke-width="1.1"/><polygon points="2175.5,152.5 2172.3,154.3 2172.3,150.7" fill="#111"/><polyline points="2203.0,113.5 2225.5,113.5 2225.5,126.0" stroke="#111" stroke-width="1.1" fill="none"/><polyline points="2203.0,154.5 2225.5,154.5 2225.5,136.0" stroke="#111" stroke-width="1.1" fill="none"/><circle cx="2225.5" cy="131" r="4.6" fill="none" stroke="#111" stroke-width="0.9"/><line x1="2220.9" y1="131" x2="2230.1" y2="131" stroke="#111" stroke-width="0.9"/><line x1="2225.5" y1="126.4" x2="2225.5" y2="135.6" stroke="#111" stroke-width="0.9"/><line x1="2230.1" y1="131.0" x2="2237.3" y2="131.0" stroke="#111" stroke-width="1.1"/><polygon points="2240.5,131.0 2237.3,132.8 2237.3,129.2" fill="#111"/><line x1="2298.0" y1="131.0" x2="2316.1" y2="131.0" stroke="#111" stroke-width="1.1"/><polygon points="2319.3,131.0 2316.1,132.8 2316.1,129.2" fill="#111"/><line x1="2060.7" y1="136.3" x2="2072.3" y2="136.3" stroke="#111" stroke-width="1.1"/><polygon points="2075.5,136.3 2072.3,138.1 2072.3,134.5" fill="#111"/><line x1="2446.5" y1="131.4" x2="2460.3" y2="131.4" stroke="#111" stroke-width="1.1"/><polygon points="2463.5,131.4 2460.3,133.2 2460.3,129.6" fill="#111"/><line x1="2535.5" y1="131.4" x2="2542.8" y2="131.4" stroke="#111" stroke-width="1.1"/><polygon points="2546.0,131.4 2542.8,133.2 2542.8,129.6" fill="#111"/><line x1="2499.7" y1="161.2" x2="2499.7" y2="153.5" stroke="#111" stroke-width="1.1"/><polygon points="2499.7,150.3 2501.5,153.5 2497.9,153.5" fill="#111"/><line x1="2615" y1="120.3" x2="2628" y2="98.3" stroke="#e02020" stroke-width="1" stroke-dasharray="2.5,1.5"/><line x1="2615" y1="143.7" x2="2628" y2="163.9" stroke="#e02020" stroke-width="1" stroke-dasharray="2.5,1.5"/></svg>
<div class="ab " style="left:465.6px;top:109.0px;width:62.0px;height:17.5px;background:#fff;border:0.9px solid #222;box-sizing:border-box;font-family:'Liberation Serif',serif;font-size:11.4px;line-height:16.0px;text-align:center;white-space:nowrap;color:#111">Feature</div>
<div class="ab " style="left:465.6px;top:125.6px;width:62.0px;height:29.7px;background:#fff;border:0.9px solid #222;box-sizing:border-box;font-family:'Liberation Serif',serif;font-size:11.4px;line-height:13.2px;text-align:center;padding-top:1px">Coarse<br>Prediction</div>
<svg class="ab" style="left:533.4px;top:105.7px" width="51.6" height="52.0" viewBox="2387.4 105.7 51.6 52.0"><svg x="2387.4" y="105.7" width="51.6" height="52.0" viewBox="2387.4 105.7 51.6 52.0" overflow="hidden"><defs><linearGradient id="g2" x1="0" y1="0" x2="0" y2="1"><stop offset="0" stop-color="#2f55a8"/><stop offset="0.40" stop-color="#3558a8"/><stop offset="0.41" stop-color="#3b3a3c"/><stop offset="0.63" stop-color="#464140"/><stop offset="0.64" stop-color="#a95a36"/><stop offset="1" stop-color="#bb6a40"/></linearGradient></defs><rect x="2387.4" y="105.7" width="51.6" height="52.0" fill="url(#g2)"/><rect x="2428.7" y="105.7" width="10.3" height="20.8" fill="#7d8a6c" opacity="0.85"/><line x1="2387.4" y1="147.3" x2="2439" y2="146.3" stroke="#cf8a60" stroke-width="0.6" opacity="0.6"/><text x="2387.7" y="113.2" font-family="Liberation Sans" font-weight="bold" font-size="9.2" fill="#d6dff2" textLength="51.0" lengthAdjust="spacingAndGlyphs">eite. ewz.cl</text><polygon points="2411.8,117.9 2418.5,119.1 2420.7,125.7 2423.6,130.4 2426.6,130.4 2426.6,133.5 2419.9,133.5 2418.1,135.8 2415.5,138.2 2411.8,145.2 2409.9,150.3 2411.8,153.0 2402.6,153.0 2401.4,149.9 2398.8,148.3 2400.7,144.4 2403.7,139.7 2403.3,134.3 2401.4,129.6 2402.6,122.6 2407.4,119.1" fill="#3535ee"/><ellipse cx="2415.1" cy="116.5" rx="2.8" ry="2.7" fill="#3535ee"/><ellipse cx="2429.2" cy="131.9" rx="5.2" ry="2.1" fill="#3535ee"/></svg></svg>
<div class="ab" style="right:348.8px;text-align:right;top:176.2px;font-family:'Liberation Serif',serif;font-size:13.1px;line-height:15.72px;height:15.72px;white-space:nowrap;font-weight:bold;color:#000;">Coarse Segmentation</div>
<div class="ab " style="left:609.8px;top:112.5px;width:71.7px;height:37.4px;background:#f7e3a6;border:0.9px solid #333;border-radius:6px;box-sizing:border-box;font-family:'Liberation Serif',serif;font-size:10.3px;line-height:12px;text-align:center;padding-top:6.5px">Morphology<br>Analysis</div>
<div class="ab " style="left:607.9px;top:161.2px;width:75.6px;height:13.6px;background:#fff;border:0.9px solid #222;box-sizing:border-box;font-family:'Liberation Serif',serif;font-size:10.3px;line-height:11.2px;text-align:center;white-space:nowrap;color:#111">Previous Mask</div>
<div class="ab " style="left:607.9px;top:173.8px;width:75.6px;height:12.7px;background:#fff;border:0.9px solid #222;box-sizing:border-box;font-family:'Liberation Serif',serif;font-size:10.3px;line-height:11.2px;text-align:center;white-space:nowrap;color:#111">Last Click</div>
<svg class="ab" style="left:692.2px;top:95.3px" width="72.7" height="72.1" viewBox="2546.2 95.3 72.7 72.1"><svg x="2546.2" y="95.3" width="72.7" height="72.1" viewBox="2546.2 95.3 72.7 72.1" overflow="hidden"><defs><linearGradient id="g3" x1="0" y1="0" x2="0" y2="1"><stop offset="0" stop-color="#2f55a8"/><stop offset="0.43" stop-color="#3558a8"/><stop offset="0.44" stop-color="#3b3a3c"/><stop offset="0.60" stop-color="#464140"/><stop offset="0.61" stop-color="#a95a36"/><stop offset="1" stop-color="#bb6a40"/></linearGradient></defs><rect x="2546.2" y="95.3" width="72.7" height="72.1" fill="url(#g3)"/><rect x="2604.4" y="95.3" width="14.5" height="31.0" fill="#7d8a6c" opacity="0.85"/><line x1="2546.2" y1="153.0" x2="2618.9" y2="151.5" stroke="#cf8a60" stroke-width="0.6" opacity="0.6"/><text x="2546.5" y="104.0" font-family="Liberation Sans" font-weight="bold" font-size="10.8" fill="#d6dff2" textLength="72.1" lengthAdjust="spacingAndGlyphs">eite. ewz.cl</text><polygon points="2580.2,112.5 2589.7,114.2 2592.9,123.7 2597.2,130.3 2601.4,130.3 2601.4,134.8 2591.9,134.8 2589.2,138.1 2585.5,141.4 2580.2,151.4 2577.6,158.6 2580.2,162.5 2566.9,162.5 2565.4,158.1 2561.7,155.8 2564.3,150.3 2568.5,143.6 2568.0,135.9 2565.4,129.2 2566.9,119.2 2573.8,114.2" fill="#3535ee"/><ellipse cx="2585.0" cy="110.6" rx="4.0" ry="3.9" fill="#3535ee"/><ellipse cx="2605.1" cy="132.5" rx="7.4" ry="3.1" fill="#3535ee"/><rect x="2590.5" y="119" width="24.9" height="24.8" fill="none" stroke="#e02020" stroke-width="1"/></svg></svg>
<svg class="ab" style="left:774.0px;top:98.3px" width="60.0" height="65.6" viewBox="2628.0 98.3 60.0 65.6"><svg x="2628" y="98.3" width="60.0" height="65.6" viewBox="2628 98.3 60.0 65.6" overflow="hidden"><defs><filter id="g4" x="-20%" y="-20%" width="140%" height="140%"><feGaussianBlur stdDeviation="2.10"/></filter></defs><rect x="2628" y="98.3" width="60.0" height="65.6" fill="#333333"/><g filter="url(#g4)"><rect x="2643.0" y="101.6" width="42.0" height="23.0" fill="#454545"/><polygon points="2628.0,98.3 2638.2,98.3 2640.0,131.1 2646.0,149.5 2640.0,152.1 2632.8,134.4 2628.0,127.8" fill="#b5b5b5"/><ellipse cx="2664.0" cy="132.4" rx="18.6" ry="19.0" fill="#f2f2f2"/></g></svg></svg>
<div class="ab" style="left:604.9px;width:400px;text-align:center;top:165.1px;font-family:'Liberation Serif',serif;font-size:10.2px;line-height:12.24px;height:12.24px;white-space:nowrap;color:#000;">Focus Crop</div>
<div class="ab " style="left:157.6px;top:208.8px;width:325.4px;height:108.1px;background:#fdf0f0;border:1.5px solid #ea8f8f;border-radius:15px;box-sizing:border-box;"></div>
<div class="ab " style="left:567.3px;top:208.2px;width:268.5px;height:109.1px;background:#f2fbf0;border:1.5px solid #8fdc8a;border-radius:15px;box-sizing:border-box;"></div>
<svg class="ab" style="left:83.5px;top:230.2px" width="61.4" height="66.3" viewBox="1937.5 230.2 61.4 66.3"><svg x="1937.5" y="230.2" width="61.4" height="66.3" viewBox="1937.5 230.2 61.4 66.3" overflow="hidden"><defs><filter id="g5" x="-20%" y="-20%" width="140%" height="140%"><feGaussianBlur stdDeviation="2.15"/></filter></defs><rect x="1937.5" y="230.2" width="61.4" height="66.3" fill="#333333"/><g filter="url(#g5)"><rect x="1952.8" y="233.5" width="43.0" height="23.2" fill="#454545"/><polygon points="1937.5,230.2 1947.9,230.2 1949.8,263.4 1955.9,281.9 1949.8,284.6 1942.4,266.7 1937.5,260.0" fill="#b5b5b5"/><ellipse cx="1974.3" cy="264.7" rx="19.0" ry="19.2" fill="#f2f2f2"/></g></svg></svg>
<div class="ab " style="left:163.8px;top:229.6px;width:63.5px;height:15.7px;background:#fff;border:0.9px solid #222;box-sizing:border-box;font-family:'Liberation Serif',serif;font-size:10.2px;line-height:13.3px;text-align:center;white-space:nowrap;color:#111">Logits</div>
<div class="ab " style="left:163.8px;top:244.4px;width:63.5px;height:15.7px;background:#fff;border:0.9px solid #222;box-sizing:border-box;font-family:'Liberation Serif',serif;font-size:10.2px;line-height:13.3px;text-align:center;white-space:nowrap;color:#111">Image</div>
<div class="ab " style="left:163.8px;top:259.2px;width:63.5px;height:14.8px;background:#fff;border:0.9px solid #222;box-sizing:border-box;font-family:'Liberation Serif',serif;font-size:10.2px;line-height:13.3px;text-align:center;white-space:nowrap;color:#111">Click Map</div>
<div class="ab " style="left:163.8px;top:290.2px;width:63.2px;height:15.4px;background:#fff;border:0.9px solid #222;box-sizing:border-box;font-family:'Liberation Serif',serif;font-size:10.2px;line-height:13.9px;text-align:center;white-space:nowrap;color:#111">Feature</div>
<div class="ab" style="left:57.5px;width:400px;text-align:center;top:217.9px;font-family:'Liberation Serif',serif;font-size:10.5px;line-height:12.60px;height:12.60px;white-space:nowrap;color:#000;">Conv × 3</div>
<div class="ab" style="left:128.0px;width:400px;text-align:center;top:217.9px;font-family:'Liberation Serif',serif;font-size:10.5px;line-height:12.60px;height:12.60px;white-space:nowrap;color:#000;">Conv × 3</div>
<div class="ab" style="left:56.6px;width:400px;text-align:center;top:270.5px;font-family:'Liberation Serif',serif;font-size:10.5px;line-height:12.60px;height:12.60px;white-space:nowrap;color:#000;">Conv × 1</div>
<svg class="ab" style="left:141.0px;top:205.0px" width="705.0" height="115.0" viewBox="1995.0 205.0 705.0 115.0"><polygon points="2093.5,234.0 2100.5,228.4 2100.5,258.9 2093.5,264.5" fill="#f7a0a0" stroke="#e07a7a" stroke-width="0.4"/><rect x="2090.5" y="234.0" width="3.0" height="30.5" fill="#e07a7a"/><polygon points="2090.5,234.0 2097.5,228.4 2100.5,228.4 2093.5,234.0" fill="#e07a7a"/><polygon points="2106.0,234.0 2113.0,228.4 2113.0,258.9 2106.0,264.5" fill="#f7a0a0" stroke="#e07a7a" stroke-width="0.4"/><rect x="2103.0" y="234.0" width="3.0" height="30.5" fill="#e07a7a"/><polygon points="2103.0,234.0 2110.0,228.4 2113.0,228.4 2106.0,234.0" fill="#e07a7a"/><polygon points="2118.5,234.0 2125.5,228.4 2125.5,258.9 2118.5,264.5" fill="#f7a0a0" stroke="#e07a7a" stroke-width="0.4"/><rect x="2115.5" y="234.0" width="3.0" height="30.5" fill="#e07a7a"/><polygon points="2115.5,234.0 2122.5,228.4 2125.5,228.4 2118.5,234.0" fill="#e07a7a"/><polygon points="2162.7,235.0 2169.7,229.4 2169.7,260.4 2162.7,266.0" fill="#f7a0a0" stroke="#e07a7a" stroke-width="0.4"/><rect x="2159.7" y="235.0" width="3.0" height="31.0" fill="#e07a7a"/><polygon points="2159.7,235.0 2166.7,229.4 2169.7,229.4 2162.7,235.0" fill="#e07a7a"/><polygon points="2175.0,235.0 2182.0,229.4 2182.0,260.4 2175.0,266.0" fill="#f7a0a0" stroke="#e07a7a" stroke-width="0.4"/><rect x="2172.0" y="235.0" width="3.0" height="31.0" fill="#e07a7a"/><polygon points="2172.0,235.0 2179.0,229.4 2182.0,229.4 2175.0,235.0" fill="#e07a7a"/><polygon points="2187.5,235.0 2194.5,229.4 2194.5,260.4 2187.5,266.0" fill="#f7a0a0" stroke="#e07a7a" stroke-width="0.4"/><rect x="2184.5" y="235.0" width="3.0" height="31.0" fill="#e07a7a"/><polygon points="2184.5,235.0 2191.5,229.4 2194.5,229.4 2187.5,235.0" fill="#e07a7a"/><polygon points="2103.8,285.0 2110.8,279.4 2110.8,308.4 2103.8,314.0" fill="#f7a0a0" stroke="#e07a7a" stroke-width="0.4"/><rect x="2100.8" y="285.0" width="3.0" height="29.0" fill="#e07a7a"/><polygon points="2100.8,285.0 2107.8,279.4 2110.8,279.4 2103.8,285.0" fill="#e07a7a"/><line x1="1998.9" y1="263.3" x2="2008.1" y2="263.3" stroke="#111" stroke-width="1.1"/><polygon points="2011.3,263.3 2008.1,265.1 2008.1,261.5" fill="#111"/><line x1="2081.3" y1="251.6" x2="2086.8" y2="251.6" stroke="#111" stroke-width="1.1"/><polygon points="2090.0,251.6 2086.8,253.4 2086.8,249.8" fill="#111"/><line x1="2131.0" y1="251.6" x2="2137.8" y2="251.6" stroke="#111" stroke-width="1.1"/><polygon points="2141.0,251.6 2137.8,253.4 2137.8,249.8" fill="#111"/><line x1="2151.0" y1="251.6" x2="2156.1" y2="251.6" stroke="#111" stroke-width="1.1"/><polygon points="2159.3,251.6 2156.1,253.4 2156.1,249.8" fill="#111"/><circle cx="2146" cy="251.6" r="4.6" fill="none" stroke="#111" stroke-width="0.9"/><line x1="2141.4" y1="251.6" x2="2150.6" y2="251.6" stroke="#111" stroke-width="0.9"/><line x1="2146" y1="247" x2="2146" y2="256.2" stroke="#111" stroke-width="0.9"/><line x1="2081.0" y1="298.0" x2="2096.3" y2="298.0" stroke="#111" stroke-width="1.1"/><polygon points="2099.5,298.0 2096.3,299.8 2096.3,296.2" fill="#111"/><line x1="2115.0" y1="298.0" x2="2131.3" y2="298.0" stroke="#111" stroke-width="1.1"/><polygon points="2134.5,298.0 2131.3,299.8 2131.3,296.2" fill="#111"/><line x1="2146.0" y1="288.7" x2="2146.0" y2="259.8" stroke="#111" stroke-width="1.1"/><polygon points="2146.0,256.6 2147.8,259.8 2144.2,259.8" fill="#111"/><polyline points="2049.5,229.6 2049.5,214.6 2244.0,214.6" stroke="#111" stroke-width="1.1" fill="none"/><line x1="2244.0" y1="214.6" x2="2244.0" y2="221.8" stroke="#111" stroke-width="1.1"/><polygon points="2244.0,225.0 2242.2,221.8 2245.8,221.8" fill="#111"/><polyline points="2200.0,252.3 2207.0,252.3 2207.0,270.5" stroke="#111" stroke-width="1.1" fill="none"/><line x1="2207.0" y1="252.3" x2="2211.1" y2="252.3" stroke="#111" stroke-width="1.1"/><polygon points="2214.3,252.3 2211.1,254.1 2211.1,250.5" fill="#111"/><line x1="2207.0" y1="270.5" x2="2211.1" y2="270.5" stroke="#111" stroke-width="1.1"/><polygon points="2214.3,270.5 2211.1,272.3 2211.1,268.7" fill="#111"/><polyline points="2273.7,232.0 2284.5,232.0 2284.5,270.5 2273.7,270.5" stroke="#111" stroke-width="1.1" fill="none"/><line x1="2273.7" y1="252.3" x2="2292.4" y2="252.3" stroke="#111" stroke-width="1.1"/><polygon points="2295.6,252.3 2292.4,254.1 2292.4,250.5" fill="#111"/><line x1="2337.3" y1="262.7" x2="2348.6" y2="262.7" stroke="#111" stroke-width="1.1"/><polygon points="2351.8,262.7 2348.6,264.5 2348.6,260.9" fill="#111"/><line x1="2408.7" y1="262.7" x2="2417.8" y2="262.7" stroke="#111" stroke-width="1.1"/><polygon points="2421.0,262.7 2417.8,264.5 2417.8,260.9" fill="#111"/><line x1="2482.0" y1="285.3" x2="2482.0" y2="277.2" stroke="#111" stroke-width="1.1"/><polygon points="2482.0,274.0 2483.8,277.2 2480.2,277.2" fill="#111"/><line x1="2517.8" y1="254.6" x2="2529.5" y2="254.6" stroke="#111" stroke-width="1.1"/><polygon points="2532.7,254.6 2529.5,256.4 2529.5,252.8" fill="#111"/><line x1="2592.8" y1="257.0" x2="2608.4" y2="257.0" stroke="#111" stroke-width="1.1"/><polygon points="2611.6,257.0 2608.4,258.8 2608.4,255.2" fill="#111"/></svg>
<div class="ab " style="left:280.9px;top:288.7px;width:22.8px;height:19.4px;background:#f59696;border:0.9px solid #333;border-radius:3px;box-sizing:border-box;font-family:'Liberation Serif',serif;font-weight:bold;font-size:7.5px;line-height:18px;text-align:center">Up</div>
<div class="ab " style="left:360.6px;top:225.3px;width:59.1px;height:13.7px;background:#fff;border:0.9px solid #222;box-sizing:border-box;font-family:'Liberation Serif',serif;font-size:10.2px;line-height:12.2px;text-align:center;white-space:nowrap;color:#111">Logits</div>
<div class="ab " style="left:360.6px;top:245.2px;width:59.1px;height:14.2px;background:#fff;border:0.9px solid #222;box-sizing:border-box;font-family:'Liberation Serif',serif;font-size:10.2px;line-height:12.7px;text-align:center;white-space:nowrap;color:#111">Boundary</div>
<div class="ab " style="left:360.6px;top:262.7px;width:59.1px;height:15.6px;background:#fff;border:0.9px solid #222;box-sizing:border-box;font-family:'Liberation Serif',serif;font-size:10.2px;line-height:14.1px;text-align:center;white-space:nowrap;color:#111">Detail</div>
<div class="ab " style="left:442.0px;top:243.5px;width:36.5px;height:17.3px;background:#f38a8a;border:0.9px solid #333;box-sizing:border-box;font-family:'Liberation Serif',serif;font-size:8.7px;line-height:15.5px;text-align:center">Fusion</div>
<div class="ab" style="right:452.2px;text-align:right;top:299.3px;font-family:'Liberation Serif',serif;font-size:13.1px;line-height:15.72px;height:15.72px;white-space:nowrap;font-weight:bold;color:#000;">Local Refinement</div>
<svg class="ab" style="left:498.2px;top:232.2px" width="56.5" height="61.3" viewBox="2352.2 232.2 56.5 61.3"><svg x="2352.2" y="232.2" width="56.5" height="61.3" viewBox="2352.2 232.2 56.5 61.3" overflow="hidden"><defs><filter id="g6" x="-20%" y="-20%" width="140%" height="140%"><feGaussianBlur stdDeviation="1.98"/></filter></defs><rect x="2352.2" y="232.2" width="56.5" height="61.3" fill="#333333"/><g filter="url(#g6)"><rect x="2366.3" y="235.3" width="39.5" height="21.5" fill="#454545"/><polygon points="2352.2,232.2 2361.8,232.2 2363.5,262.9 2369.1,280.0 2363.5,282.5 2356.7,265.9 2352.2,259.8" fill="#b5b5b5"/><ellipse cx="2386.1" cy="264.1" rx="17.5" ry="17.8" fill="#f2f2f2"/></g></svg></svg>
<div class="ab " style="left:592.7px;top:235.7px;width:71.1px;height:38.0px;background:#c8ecc4;border:0.9px solid #333;border-radius:6px;box-sizing:border-box;font-family:'Liberation Serif',serif;font-size:10.3px;line-height:12px;text-align:center;padding-top:6px">Morphology<br>Analysis</div>
<div class="ab " style="left:590.3px;top:285.3px;width:76.0px;height:13.6px;background:#fff;border:0.9px solid #222;box-sizing:border-box;font-family:'Liberation Serif',serif;font-size:10.3px;line-height:11.2px;text-align:center;white-space:nowrap;color:#111">Previous Mask</div>
<div class="ab " style="left:590.3px;top:298.0px;width:76.0px;height:12.7px;background:#fff;border:0.9px solid #222;box-sizing:border-box;font-family:'Liberation Serif',serif;font-size:10.3px;line-height:11.2px;text-align:center;white-space:nowrap;color:#111">Last Click</div>
<svg class="ab" style="left:679.0px;top:223.4px" width="59.8" height="62.3" viewBox="2533.0 223.4 59.8 62.3"><svg x="2533" y="223.4" width="59.8" height="62.3" viewBox="2533 223.4 59.8 62.3" overflow="hidden"><defs><filter id="g7" x="-20%" y="-20%" width="140%" height="140%"><feGaussianBlur stdDeviation="2.09"/></filter></defs><rect x="2533" y="223.4" width="59.8" height="62.3" fill="#333333"/><g filter="url(#g7)"><rect x="2547.9" y="226.5" width="41.9" height="21.8" fill="#454545"/><polygon points="2533.0,223.4 2543.2,223.4 2545.0,254.6 2550.9,272.0 2545.0,274.5 2537.8,257.7 2533.0,251.4" fill="#b5b5b5"/><ellipse cx="2568.9" cy="255.8" rx="18.5" ry="18.1" fill="#6f9a6e"/></g><path d="M2547.9,254.6 C2556.9,239.0 2589.8,235.9 2588.6,257.7 C2586.8,273.2 2559.9,276.4 2547.9,254.6 Z" fill="#96dc94"/></svg></svg>
<div class="ab " style="left:757.9px;top:238.0px;width:59.8px;height:38.0px;background:#c8ecc4;border:0.9px solid #333;border-radius:6px;box-sizing:border-box;font-family:'Liberation Serif',serif;font-size:11.6px;line-height:14px;text-align:center;padding-top:4.5px">Align<br>Back</div>
<div class="ab" style="right:103.4px;text-align:right;top:300.3px;font-family:'Liberation Serif',serif;font-size:13.1px;line-height:15.72px;height:15.72px;white-space:nowrap;font-weight:bold;color:#000;">Progressive Merge</div>
<div class="b " style="left:73.00px;top:333.50px;width:711.94px;font-size:13.902px;line-height:15.020px;transform:scaleX(1.097);transform-origin:0 0;">
<div id="t190" class="j" style="letter-spacing:-0.016px;"><b>Fig. 2: Overall framework of FocalClick.</b> We take the image, two click maps, and the previous mask as input. We use binary</div>
<div id="t191" class="j" style="letter-spacing:-0.101px;">disks with radius 2 to represent the click. First, we select the <b>Target Crop</b> around the target object and resize it to a small size. It</div>
<div id="t192" class="j" style="letter-spacing:-0.104px;">is then sent into <b>Segmentor</b> to predict a coarse mask. Next, we chose a <b>Focus Crop</b> by calculating the different regions between</div>
<div id="t193" class="j" style="letter-spacing:-0.087px;">the previous masks and the coarse prediction to refine the details. At last, <b>Progressive Merge</b> updates the local part that the user</div>
<div id="t194" class="l">intends to modify and preserves the details in other regions.</div>
</div>
<div class="h1" style="left:74.0px;top:427.20px;font-size:16.8px;line-height:20px"><span style="display:inline-block;width:26.5px">3</span>M<span style="font-size:13.8px;letter-spacing:0.4px">ETHOD</span></div>
<div class="b " style="left:73.00px;top:453.20px;width:347.77px;font-size:14.403px;line-height:17.450px;transform:scaleX(1.097);transform-origin:0 0;">
<div id="t195" class="j" style="letter-spacing:0.166px;">We begin by introducing our efficient FocalClick pipeline</div>
<div id="t196" class="j" style="letter-spacing:0.350px;">and elaborating on a newly proposed task, Interactive</div>
<div id="t197" class="j" style="letter-spacing:-0.131px;">Mask Correction, along with our benchmark. Following this,</div>
<div id="t198" class="j" style="letter-spacing:0.350px;">we present the extensions and enhancements that define</div>
<div id="t199" class="l">FocalClick-XL in the subsequent sections.</div>
</div>
<div class="h2" style="left:73.5px;top:565.00px;font-size:14.4px;line-height:18px"><span style="display:inline-block;width:35px">3.1</span>FocalClick: Multi-stage Decoupled Pipeline</div>
<div class="b " style="left:73.00px;top:589.20px;width:347.77px;font-size:14.403px;line-height:17.450px;transform:scaleX(1.097);transform-origin:0 0;">
<div id="t200" class="j" style="letter-spacing:0.205px;">The core idea of the FocalClick pipeline is to break down</div>
<div id="t201" class="j" style="letter-spacing:0.350px;">a single, heavy inference over the entire image into two</div>
<div id="t202" class="j" style="letter-spacing:0.263px;">lightweight predictions on smaller patches. As illustrated</div>
<div id="t203" class="j" style="letter-spacing:0.350px;">in Fig. <span class=cr>2</span>, the process begins with Target Crop, which</div>
<div id="t204" class="j" style="letter-spacing:0.350px;">selects a patch centered around the target object, resizes</div>
<div id="t205" class="j" style="letter-spacing:0.350px;">it to a smaller scale, and feeds it into the Segmentor to</div>
<div id="t206" class="j" style="letter-spacing:0.006px;">generate a coarse mask. Then, Focus Crop identifies a local</div>
<div id="t207" class="j" style="letter-spacing:0.350px;">region that requires refinement and sends the zoomed-</div>
<div id="t208" class="j" style="letter-spacing:0.350px;">in patch to the Refiner for further enhancement. Finally,</div>
<div id="t209" class="j" style="letter-spacing:0.335px;">Progressive Merge integrates these localized predictions</div>
<div id="t210" class="j" style="letter-spacing:-0.014px;">back into the full-resolution mask. This iterative refinement</div>
<div id="t211" class="j" style="letter-spacing:0.338px;">process ensures that only a small local region is updated</div>
<div id="t212" class="j" style="letter-spacing:0.350px;">after each user interaction, while all pixels in the final</div>
<div id="t213" class="j" style="letter-spacing:0.350px;">prediction benefit from repeated refinements distributed</div>
<div id="t214" class="l">across multiple rounds.</div>
<div id="t215" class="j" style="margin-top:0.80px;letter-spacing:0.350px;"><b>Target crop.</b> The objective is to eliminate background</div>
<div id="t216" class="j" style="letter-spacing:-0.044px;">information that is irrelevant to the target object. To achieve</div>
<div id="t217" class="j" style="letter-spacing:0.350px;">this, we first determine the minimum bounding box that</div>
<div id="t218" class="j" style="letter-spacing:0.350px;">encloses both the previous mask and the newly added</div>
<div id="t219" class="j" style="letter-spacing:0.320px;">click. This bounding box is then expanded by a factor of</div>
<div id="t220" class="j" style="letter-spacing:0.350px;"><i class=m>r</i><sub><i>TC</i></sub> = 1.4 following [<span class=cb>7</span>], [<span class=cb>14</span>]. Afterward, we crop the</div>
<div id="t221" class="j" style="letter-spacing:0.048px;">relevant input tensors, including the image, previous mask,</div>
<div id="t222" class="j" style="letter-spacing:0.350px;">and click maps, and resize them to a smaller scale for</div>
<div id="t223" class="l">efficient processing.</div>
<div id="t224" class="j" style="margin-top:0.80px;letter-spacing:0.350px;"><b>Coarse segmentation.</b> This step aims to generate an</div>
<div id="t225" class="j" style="letter-spacing:0.350px;">initial rough mask for the target object, which serves as</div>
<div id="t226" class="j" style="letter-spacing:0.350px;">a foundation for locating the Focus Crop and enabling</div>
<div id="t227" class="j" style="letter-spacing:-0.057px;">further refinement. The Segmentor can be any segmentation</div>
<div id="t228" class="j" style="letter-spacing:0.021px;">network [<span class=cb>43</span>], [<span class=cb>44</span>], [<span class=cb>45</span>], [<span class=cb>46</span>], [<span class=cb>47</span>], allowing customization</div>
<div id="t229" class="j" style="letter-spacing:0.350px;">for different scenarios. In our implementation, we adopt</div>
<div id="t230" class="j" style="letter-spacing:0.346px;">state-of-the-art methods such as HRNet+OCR [<span class=cb>48</span>], [<span class=cb>49</span>]</div>
</div>
<div class="b " style="left:472.00px;top:429.80px;width:347.77px;font-size:14.403px;line-height:17.450px;transform:scaleX(1.097);transform-origin:0 0;">
<div id="t231" class="j" style="letter-spacing:0.350px;">and SegFormer [<span class=cb>50</span>] as representative architectures. As</div>
<div id="t232" class="j" style="letter-spacing:0.293px;">illustrated in Fig. <span class=cr>2</span>, we follow the RITM framework [<span class=cb>7</span>],</div>
<div id="t233" class="j" style="letter-spacing:-0.052px;">incorporating two convolutional layers to adjust the channel</div>
<div id="t234" class="j" style="letter-spacing:-0.038px;">and scale of the click maps, followed by feature fusion after</div>
<div id="t235" class="l">the stem layers.</div>
<div id="t236" class="j" style="margin-top:0.33px;letter-spacing:0.132px;"><b>Focus crop.</b> It aims to locate the area that the user intends</div>
<div id="t237" class="j" style="letter-spacing:0.350px;">to modify. We first compare the differences between the</div>
<div id="t238" class="j" style="letter-spacing:0.350px;">primitive segmentation results and the previous mask to</div>
<div id="t239" class="j" style="letter-spacing:0.350px;">get a Difference Mask <i class=m>M</i><sub><i>xor</i></sub>. We then calculate the max</div>
<div id="t240" class="j" style="letter-spacing:0.249px;">connected region of <i class=m>M</i><sub><i>xor</i></sub> that contains the new click, and</div>
<div id="t241" class="j" style="letter-spacing:-0.032px;">we generate the external box for this max connected region.</div>
<div id="t242" class="j" style="letter-spacing:0.221px;">Similar to the Target Crop, we make expansion with ratio</div>
<div id="t243" class="j" style="letter-spacing:0.350px;"><i class=m>r</i><sub><i>FC</i></sub> = 1.4. We note this region Focus Crop. Accordingly,</div>
<div id="t244" class="j" style="letter-spacing:0.244px;">we crop local patches on the input image and click maps.</div>
<div id="t245" class="j" style="letter-spacing:0.211px;">Besides, we use RoiAlign [<span class=cb>51</span>] to crop the feature and the</div>
<div id="t246" class="l">output logits predicted by the Segmentor.</div>
<div id="t247" class="j" style="margin-top:0.33px;letter-spacing:0.350px;"><b>Local refinement.</b> It recovers the details of the coarse</div>
<div id="t248" class="j" style="letter-spacing:0.350px;">prediction in Focus Crop. We first extract the low-level</div>
<div id="t249" class="j" style="letter-spacing:0.029px;">feature from the cropped tensor using Xception convs [<span class=cb>52</span>].</div>
<div id="t250" class="j" style="letter-spacing:0.350px;">At the same time, we adjust the channel number of the</div>
<div id="t251" class="j" style="letter-spacing:0.062px;">RoiAligned feature and fuse it with the extracted low-level</div>
<div id="t252" class="j" style="letter-spacing:0.350px;">feature. To get refined predictions, we utilize two heads</div>
<div id="t253" class="j" style="letter-spacing:0.350px;">to predict a Detail Map <i class=m>M</i><sub><i>d</i></sub> and a Boundary Map <i class=m>M</i><sub><i>b</i></sub>,</div>
<div id="t254" class="j" style="letter-spacing:0.350px;">and calculate the refined prediction <i class=m>M</i><sub><i>r</i></sub> by updating the</div>
<div id="t255" class="j" style="letter-spacing:0.350px;">boundary region of the coarse predicted logits <i class=m>M</i><sub><i>l</i></sub>, as in</div>
<div id="t256" class="l">Eq. <span class=cr>1</span>.</div>
</div>
<div class="ab" style="left:486.30px;top:893.80px;text-align:left;font-family:'Liberation Serif',serif;font-size:15.8px;line-height:18.96px;white-space:nowrap;word-spacing:2.5px"><span id="eq1"><i>M<sub>r</sub></i> = <i>Sigmoid</i>(<i>M<sub>b</sub></i>) <span style="position:relative;top:0.22em">*</span> <i>M<sub>d</sub></i> + (1 − <i>Sigmoid</i>(<i>M<sub>b</sub></i>)) <span style="position:relative;top:0.22em">*</span> <i>M<sub>l</sub></i></span></div>
<div class="ab" style="right:73.00px;top:893.80px;font-family:'Liberation Serif',serif;font-size:15.8px;line-height:18.96px;">(1)</div>
<div class="b " style="left:472.00px;top:921.50px;width:347.77px;font-size:14.403px;line-height:17.527px;transform:scaleX(1.097);transform-origin:0 0;">
<div id="t257" class="j" style="letter-spacing:0.350px;"><b>Progressive merge.</b> When annotating or editing masks,</div>
<div id="t258" class="j" style="letter-spacing:0.350px;">we do not expect the model to update the mask for</div>
<div id="t259" class="j" style="letter-spacing:0.319px;">all pixels after each click. Otherwise, the well-annotated</div>
<div id="t260" class="j" style="letter-spacing:0.075px;">details would be completely over-written. Instead, we only</div>
<div id="t261" class="j" style="letter-spacing:0.312px;">want to update in limited areas that we intend to modify.</div>
<div id="t262" class="j" style="letter-spacing:-0.160px;">Similar to the method of calculating Focus Crop, Progressive</div>
<div id="t263" class="j" style="letter-spacing:0.259px;">Merge distinguishes the user intention using morphology</div>
<div id="t264" class="j" style="letter-spacing:0.350px;">analysis. After adding a user click, we simply binarize</div>
<div id="t265" class="j" style="letter-spacing:0.350px;">the newly predicted mask with a threshold of 0.5 and</div>
<div id="t266" class="j" style="letter-spacing:0.027px;">calculate a different region between the new prediction and</div>
<div id="t267" class="j" style="letter-spacing:0.201px;">the preexisting mask, then pick the max connected region</div>
<div id="t268" class="j" style="letter-spacing:0.312px;">that contains the new click as the update region (the part</div>
</div>
</div>
<div class="pg" style="left:2781px">
<div class="ab" style="right:73.00px;top:41.00px;font-family:'Liberation Sans',sans-serif;font-size:10.6px;line-height:12.719999999999999px;">4</div>
<div class="b " style="left:73.00px;top:65.70px;width:347.77px;font-size:14.403px;line-height:17.450px;transform:scaleX(1.097);transform-origin:0 0;">
<div id="t269" class="j" style="letter-spacing:0.350px;">the green in Fig. <span class=cr>3</span>). In this region, we update the newly</div>
<div id="t270" class="j" style="letter-spacing:0.320px;">predicted mask onto the previous mask, and we keep the</div>
<div id="t271" class="l">previous mask untouched in other regions.</div>
<div id="t272" class="j" style="text-indent:20.054694621695532px;margin-top:-0.30px;letter-spacing:0.350px;">When starting with a preexisting mask or switching</div>
<div id="t273" class="j" style="letter-spacing:0.151px;">back from other segmentation tools, we apply Progressive</div>
<div id="t274" class="j" style="letter-spacing:-0.096px;">Merge to preserve the correct details. While annotating from</div>
<div id="t275" class="l">scratch, we active the progressive mode after 10 clicks.</div>
<div id="t276" class="j" style="margin-top:-0.30px;letter-spacing:0.350px;"><b>Training supervision.</b> The supervision of the boundary</div>
<div id="t277" class="j" style="letter-spacing:0.211px;">map <i class=m>M</i><sub><i>b</i></sub> is computed by down-sampling the segmentation</div>
<div id="t278" class="j" style="letter-spacing:0.350px;">ground truth 8 times and resizing it back. The changed</div>
<div id="t279" class="j" style="letter-spacing:0.263px;">pixels could represent the region that needs more details.</div>
<div id="t280" class="j" style="letter-spacing:0.350px;">We supervise the boundary head with Binary Cross En-</div>
<div id="t281" class="j" style="letter-spacing:0.166px;">tropy Loss <i class=m>L</i><sub><i>bce</i></sub>. The coarse segmentation is supervised by</div>
<div id="t282" class="j" style="letter-spacing:0.116px;">Normalized Focal Loss <i class=m>L</i><sub><i>nfl</i></sub> proposed in RITM [<span class=cb>7</span>]. For the</div>
<div id="t283" class="j" style="letter-spacing:0.350px;">refined prediction, we add boundary weight (1.5) on the</div>
<div id="t284" class="j" style="letter-spacing:0.350px;">NFL loss, and we note it as <i class=m>L</i><sub><i>bnfl</i></sub>, the total loss could be</div>
<div id="t285" class="l">calculated as Eq. <span class=cr>2</span>.</div>
</div>
<div class="ab" style="left:189.30px;top:370.90px;text-align:left;font-family:'Liberation Serif',serif;font-size:15.8px;line-height:18.96px;white-space:nowrap;word-spacing:3px"><span id="eq2"><i>L</i> = <i>L<sub>bce</sub></i> + <i>L<sub>nfl</sub></i> + <i>L<sub>bnfl</sub></i></span></div>
<div class="ab" style="right:472.50px;top:370.90px;font-family:'Liberation Serif',serif;font-size:15.8px;line-height:18.96px;">(2)</div>
<div class="h2" style="left:73.5px;top:409.90px;font-size:14.4px;line-height:18px"><span style="display:inline-block;width:35px">3.2</span>Interactive Mask Correction</div>
<div class="b " style="left:73.00px;top:433.30px;width:347.77px;font-size:14.403px;line-height:17.450px;transform:scaleX(1.097);transform-origin:0 0;">
<div id="t286" class="j" style="letter-spacing:0.091px;">In practical applications, large portions of annotation tasks</div>
<div id="t287" class="j" style="letter-spacing:0.324px;">provide pre-inferred masks. In this case, annotators only</div>
<div id="t288" class="j" style="letter-spacing:0.350px;">need to make corrections on them instead of starting</div>
<div id="t289" class="j" style="letter-spacing:0.350px;">from zero. Besides, during annotation, when annotators</div>
<div id="t290" class="j" style="letter-spacing:0.152px;">switch to matting, lasso, or polygon tools and switchback,</div>
<div id="t291" class="j" style="letter-spacing:0.350px;">we also expect to preserve the pixels annotated by other</div>
<div id="t292" class="j">tools. However, existing methods predict new values for all</div>
<div id="t293" class="j" style="letter-spacing:0.155px;">pixels after each click. Thus, they are not compatible with</div>
<div id="t294" class="l">modifying preexisting masks or incorporating other tools.</div>
<div id="t295" class="j" style="text-indent:20.054694621695532px;margin-top:0.11px;letter-spacing:0.038px;">To solve this problem, we make the following attempts:</div>
<div id="t296" class="j" style="letter-spacing:0.350px;">1) We construct a new benchmark, DAVIS-585, which</div>
<div id="t297" class="j" style="letter-spacing:0.350px;">provides initial masks to measure the ability of mask</div>
<div id="t298" class="j" style="letter-spacing:-0.199px;">correction. 2) We prove that our FocalClick shows significant</div>
<div id="t299" class="l">superiority over other works in this new task.</div>
<div id="t300" class="j" style="margin-top:0.11px;letter-spacing:0.083px;"><b>New benchmark: DAVIS-585.</b> Existing works uses Grab-</div>
<div id="t301" class="j" style="letter-spacing:0.026px;">Cut [<span class=cb>15</span>], Berkeley [<span class=cb>53</span>], DAVIS [<span class=cb>54</span>], SBD [<span class=cb>55</span>] to evaluate</div>
<div id="t302" class="j" style="letter-spacing:0.281px;">the performance of click-based interactive segmentation.</div>
<div id="t303" class="j" style="letter-spacing:0.200px;">However, none of them provides initial masks to measure</div>
<div id="t304" class="j" style="letter-spacing:-0.092px;">the ability of Interactive Mask Correction. Besides, GrabCut</div>
<div id="t305" class="j" style="letter-spacing:0.350px;">and Berkeley only contain 50 and 100 easy examples,</div>
<div id="t306" class="j" style="letter-spacing:0.350px;">making the results not convincing. SBD provides 2802</div>
<div id="t307" class="j" style="letter-spacing:0.350px;">test images, but they are annotated by polygons with</div>
<div id="t308" class="j" style="letter-spacing:0.350px;">low quality. DAVIS is firstly introduced into interactive</div>
<div id="t309" class="j" style="letter-spacing:-0.053px;">segmentation in [<span class=cb>20</span>]. It contains 345 high-quality masks for</div>
<div id="t310" class="j" style="letter-spacing:0.211px;">diverse scenarios. However, as [<span class=cb>20</span>] follows the setting of</div>
<div id="t311" class="j" style="letter-spacing:0.101px;">DAVIS2016, it merges all objects into one mask. Hence, it</div>
<div id="t312" class="j" style="letter-spacing:0.261px;">does not contain small objects, occluded objects, and no-</div>
<div id="t313" class="j" style="letter-spacing:0.210px;">salient objects. In this paper, we chose to build a new test</div>
<div id="t314" class="j">set based on DAVIS [<span class=cb>54</span>] for its high annotation quality and</div>
<div id="t315" class="l">diversity, and we made two modifications:</div>
<div id="t316" class="j" style="text-indent:20.054694621695532px;margin-top:0.11px;letter-spacing:-0.160px;">First, we follow DAVIS2017 which annotates each object</div>
<div id="t317" class="j" style="letter-spacing:0.350px;">or accessory separately, making this dataset more chal-</div>
<div id="t318" class="j" style="letter-spacing:0.179px;">lenging. We uniformly sample 10 images per video for 30</div>
<div id="t319" class="j" style="letter-spacing:0.107px;">validation videos, and we take different object annotations</div>
<div id="t320" class="j" style="letter-spacing:-0.015px;">as independent samples. Then we filter out the masks under</div>
<div id="t321" class="j" style="letter-spacing:0.170px;">300 pixels and finally get 585 test samples, so we call our</div>
<div id="t322" class="l">new benchmark <b>DAVIS-585</b>.</div>
<div id="t323" class="j" style="text-indent:20.054694621695532px;margin-top:0.11px;letter-spacing:0.350px;">Second, to generate the flawed initial masks, we</div>
<div id="t324" class="j" style="letter-spacing:-0.074px;">compare two strategies: 1) Simulating the defects on ground</div>
<div id="t325" class="j" style="letter-spacing:0.350px;">truth masks using super-pixels. 2) Generating defective</div>
</div>
<div class="ab " style="left:473.0px;top:59.6px;width:380.4px;height:1.3px;background:#222"></div>
<div class="ab " style="left:473.0px;top:83.2px;width:380.4px;height:0.8px;background:#222"></div>
<div class="ab " style="left:473.0px;top:332.8px;width:380.4px;height:0.8px;background:#222"></div>
<div class="ab" style="left:473.0px;top:63.17px;font-family:'Liberation Serif',serif;font-size:14.4px;line-height:16.6px;white-space:nowrap;color:#141414"><span style="font-size:15.6px"><b>Algorithm 1</b> Simulate Defective Mask using Super-Pixels</span></div>
<div class="ab" style="left:473.0px;top:86.57px;font-family:'Liberation Serif',serif;font-size:14.4px;line-height:16.6px;white-space:nowrap;color:#141414"><b>Require:</b>&nbsp; Image, GTMask, maxIOU=0.85, minIOU=0.75</div>
<div class="ab" style="left:485.6px;top:101.67px;font-family:'Liberation Serif',serif;font-size:14.4px;line-height:16.6px;white-space:nowrap;color:#141414">SimMask <span style="display:inline-block;transform:scale(1.35,1.05) translateY(-0.5px);margin:0 1.5px">←</span> GT</div>
<div class="ab" style="left:485.6px;top:116.77px;font-family:'Liberation Serif',serif;font-size:14.4px;line-height:16.6px;white-space:nowrap;color:#141414"><b>while</b>&nbsp; True&nbsp; <b>do</b></div>
<div class="ab" style="left:500.9px;top:131.87px;font-family:'Liberation Serif',serif;font-size:14.4px;line-height:16.6px;white-space:nowrap;color:#141414">ErrorType <span style="display:inline-block;transform:scale(1.35,1.05) translateY(-0.5px);margin:0 1.5px">←</span> Rand([Boundary, External, Internal])</div>
<div class="ab" style="left:500.9px;top:146.97px;font-family:'Liberation Serif',serif;font-size:14.4px;line-height:16.6px;white-space:nowrap;color:#141414">PixelNumber <span style="display:inline-block;transform:scale(1.35,1.05) translateY(-0.5px);margin:0 1.5px">←</span> Rand([50, 100, 200, 300, 500, 700])</div>
<div class="ab" style="left:500.9px;top:162.07px;font-family:'Liberation Serif',serif;font-size:14.4px;line-height:16.6px;white-space:nowrap;color:#141414">SuperPixels <span style="display:inline-block;transform:scale(1.35,1.05) translateY(-0.5px);margin:0 1.5px">←</span> Slic(Image, PixelNumber)</div>
<div class="ab" style="left:500.9px;top:177.17px;font-family:'Liberation Serif',serif;font-size:14.4px;line-height:16.6px;white-space:nowrap;color:#141414">SimMask <span style="display:inline-block;transform:scale(1.35,1.05) translateY(-0.5px);margin:0 1.5px">←</span> Merge( ErrorType, SuperPixels, SimMask)</div>
<div class="ab" style="left:500.9px;top:192.27px;font-family:'Liberation Serif',serif;font-size:14.4px;line-height:16.6px;white-space:nowrap;color:#141414">MaskIOU <span style="display:inline-block;transform:scale(1.35,1.05) translateY(-0.5px);margin:0 1.5px">←</span> IOU( SimMask, GTMask)</div>
<div class="ab" style="left:500.9px;top:207.37px;font-family:'Liberation Serif',serif;font-size:14.4px;line-height:16.6px;white-space:nowrap;color:#141414"><b>if</b> MaskIOU &lt; minIOU <b>then</b></div>
<div class="ab" style="left:514.8px;top:222.47px;font-family:'Liberation Serif',serif;font-size:14.4px;line-height:16.6px;white-space:nowrap;color:#141414">Break</div>
<div class="ab" style="left:500.9px;top:237.57px;font-family:'Liberation Serif',serif;font-size:14.4px;line-height:16.6px;white-space:nowrap;color:#141414"><b>else if</b> MaskIOU &gt; maxIOU <b>then</b></div>
<div class="ab" style="left:514.8px;top:252.67px;font-family:'Liberation Serif',serif;font-size:14.4px;line-height:16.6px;white-space:nowrap;color:#141414">Continue</div>
<div class="ab" style="left:500.9px;top:267.77px;font-family:'Liberation Serif',serif;font-size:14.4px;line-height:16.6px;white-space:nowrap;color:#141414"><b>else</b></div>
<div class="ab" style="left:514.8px;top:282.87px;font-family:'Liberation Serif',serif;font-size:14.4px;line-height:16.6px;white-space:nowrap;color:#141414">Return SimMask</div>
<div class="ab" style="left:500.9px;top:297.97px;font-family:'Liberation Serif',serif;font-size:14.4px;line-height:16.6px;white-space:nowrap;color:#141414"><b>end if</b></div>
<div class="ab" style="left:485.6px;top:313.07px;font-family:'Liberation Serif',serif;font-size:14.4px;line-height:16.6px;white-space:nowrap;color:#141414"><b>end while</b></div>
<div class="b " style="left:472.00px;top:367.90px;width:347.77px;font-size:14.403px;line-height:17.450px;transform:scaleX(1.097);transform-origin:0 0;">
<div id="t326" class="j" style="letter-spacing:0.216px;">masks using offline models. We find the first strategy has</div>
<div id="t327" class="j" style="letter-spacing:0.350px;">two advantages: 1) It could control the distribution of</div>
<div id="t328" class="j" style="letter-spacing:0.350px;">error type and the initial IOUs. 2) The simulated masks</div>
<div id="t329" class="j" style="letter-spacing:0.062px;">could be used to measure the ability to preserve the correct</div>
<div id="t330" class="j" style="letter-spacing:0.235px;">part of preexisting masks. Therefore, we use super-pixels</div>
<div id="t331" class="j" style="letter-spacing:-0.007px;">algorithm<sup class=cr>2</sup> to simulate the defect. We first use mask erosion</div>
<div id="t332" class="j" style="letter-spacing:0.282px;">and dilation to extract the boundary region of the ground</div>
<div id="t333" class="j" style="letter-spacing:-0.008px;">truth mask. We then define three types of defects: boundary</div>
<div id="t334" class="j" style="letter-spacing:0.289px;">error, external FP (False positive), and internal TN (True</div>
<div id="t335" class="j" style="letter-spacing:0.350px;">Negative). After observing the error distribution in real</div>
<div id="t336" class="j" style="letter-spacing:0.350px;">tasks, we set the probability of these three error types to</div>
<div id="t337" class="j" style="letter-spacing:0.079px;">be [0.65, 0.25, 0.1] and follow Alg. <span class=cr>1</span> to control the quality</div>
<div id="t338" class="j" style="letter-spacing:0.350px;">of each defective mask. To decide the quality range, we</div>
<div id="t339" class="j" style="letter-spacing:0.161px;">carry out a user study and find that users intend to discard</div>
<div id="t340" class="j" style="letter-spacing:0.350px;">the given masks when they have IOU lower than 75%.</div>
<div id="t341" class="j" style="letter-spacing:0.114px;">Considering that current benchmarks use NoC85 (Number</div>
<div id="t342" class="j" style="letter-spacing:0.350px;">of Clicks required on average to reach IOU 85%) as the</div>
<div id="t343" class="j" style="letter-spacing:0.350px;">metric, we control our simulated masks to have IOUs</div>
<div id="t344" class="l">between 75% and 85%.</div>
</div>
<div class="h1" style="left:473.0px;top:744.20px;font-size:16.8px;line-height:20px"><span style="display:inline-block;width:26.5px">4</span>S<span style="font-size:13.8px;letter-spacing:0.4px">CALING UP THE MULTI-STAGE PIPELINE</span></div>
<div class="b " style="left:472.00px;top:777.00px;width:347.77px;font-size:14.403px;line-height:17.450px;transform:scaleX(1.097);transform-origin:0 0;">
<div id="t345" class="j" style="letter-spacing:-0.067px;">Following the multi-stage design of FocalClick, we scale up</div>
<div id="t346" class="j" style="letter-spacing:0.350px;">the model structure and training data of each stage and</div>
<div id="t347" class="l">further propose a stronger version, termed FocalClick-XL .</div>
<div id="t348" class="j" style="text-indent:20.054694621695532px;margin-top:2.55px;letter-spacing:0.128px;">The framework of FocalClick-XL is depicted in Fig. <span class=cr>3</span>.</div>
<div id="t349" class="j" style="letter-spacing:-0.024px;">FocalClick-XL decomposes the pipeline for interactive seg-</div>
<div id="t350" class="j" style="letter-spacing:-0.096px;">mentation into three stages to model the features in context-,</div>
<div id="t351" class="j" style="letter-spacing:0.040px;">object-, and detail-level individually. The full image is sent</div>
<div id="t352" class="j" style="letter-spacing:0.032px;">into the Context-Net to extract global features. We crop the</div>
<div id="t353" class="j" style="letter-spacing:0.340px;">target region (based on the previous round segmentation</div>
<div id="t354" class="j" style="letter-spacing:0.350px;">result) and feed the target-object patch with interaction</div>
<div id="t355" class="j" style="letter-spacing:0.244px;">embeddings into the Object-Net, this part takes charge of</div>
<div id="t356" class="j" style="letter-spacing:0.078px;">locating the target region indicated by the user interactions</div>
<div id="t357" class="j" style="letter-spacing:0.350px;">and produces a primitive mask. Based on the primitive</div>
<div id="t358" class="j" style="letter-spacing:0.058px;">mask, we further conduct another zoom-in around the low-</div>
<div id="t359" class="j" style="letter-spacing:-0.117px;">confidence region and pass the small patches into the Detail-</div>
<div id="t360" class="j" style="letter-spacing:0.350px;">Net to produce high-quality results. At last, the refined</div>
<div id="t361" class="j" style="letter-spacing:0.055px;">predictions and the primitive masks are aligned back to the</div>
<div id="t362" class="l">full image to get the final prediction.</div>
</div>
<div class="ab" style="left:484.40px;top:1115.60px;text-align:left;font-family:'Liberation Serif',serif;font-size:13.65px;line-height:16.38px;">2. https:/&#8202;/&#8202;github.com&#8202;/&#8202;Algy&#8202;/&#8202;fast-slic</div>
</div>
<div class="pg" style="left:3708px">
<div class="ab" style="right:73.00px;top:41.00px;font-family:'Liberation Sans',sans-serif;font-size:10.6px;line-height:12.719999999999999px;">5</div>
<div class="ab" style="left:-84.0px;width:400px;text-align:center;top:86.2px;font-family:'Liberation Serif',serif;font-size:8.5px;line-height:10.20px;height:10.20px;white-space:nowrap;font-weight:bold;color:#000;">Detail</div>
<div class="ab" style="left:-84.0px;width:400px;text-align:center;top:96.3px;font-family:'Liberation Serif',serif;font-size:8.5px;line-height:10.20px;height:10.20px;white-space:nowrap;font-weight:bold;color:#000;">Level</div>
<div class="ab" style="left:-84.0px;width:400px;text-align:center;top:159.2px;font-family:'Liberation Serif',serif;font-size:8.5px;line-height:10.20px;height:10.20px;white-space:nowrap;font-weight:bold;color:#000;">Object</div>
<div class="ab" style="left:-84.0px;width:400px;text-align:center;top:169.7px;font-family:'Liberation Serif',serif;font-size:8.5px;line-height:10.20px;height:10.20px;white-space:nowrap;font-weight:bold;color:#000;">Level</div>
<div class="ab" style="left:-84.0px;width:400px;text-align:center;top:247.4px;font-family:'Liberation Serif',serif;font-size:8.5px;line-height:10.20px;height:10.20px;white-space:nowrap;font-weight:bold;color:#000;">Context</div>
<div class="ab" style="left:-84.0px;width:400px;text-align:center;top:257.8px;font-family:'Liberation Serif',serif;font-size:8.5px;line-height:10.20px;height:10.20px;white-space:nowrap;font-weight:bold;color:#000;">Level</div>
<svg class="ab" style="left:132.0px;top:70.0px" width="520.0" height="230.0" viewBox="3840.0 70.0 520.0 230.0"><line x1="3950.4" y1="98.5" x2="4186" y2="98.5" stroke="#b0b0b0" stroke-width="0.9"/><line x1="3960.0" y1="171.9" x2="4028.5" y2="171.9" stroke="#b8b8b8" stroke-width="0.9"/><polygon points="4031.5,171.9 4028.5,173.6 4028.5,170.2" fill="#b8b8b8"/><line x1="4040.4" y1="171.9" x2="4054.5" y2="171.9" stroke="#b8b8b8" stroke-width="0.9"/><polygon points="4057.5,171.9 4054.5,173.6 4054.5,170.2" fill="#b8b8b8"/><line x1="4145.5" y1="171.5" x2="4249.5" y2="171.5" stroke="#b8b8b8" stroke-width="0.9"/><polygon points="4252.5,171.5 4249.5,173.2 4249.5,169.8" fill="#b8b8b8"/><line x1="4283.0" y1="113.6" x2="4283.0" y2="142.0" stroke="#b8b8b8" stroke-width="0.9"/><polygon points="4283.0,145.0 4281.4,142.0 4284.6,142.0" fill="#b8b8b8"/><line x1="4283.0" y1="193.0" x2="4283.0" y2="221.5" stroke="#b8b8b8" stroke-width="0.9"/><polygon points="4283.0,224.5 4281.4,221.5 4284.6,221.5" fill="#b8b8b8"/><line x1="3906.0" y1="149.6" x2="3906.0" y2="117.5" stroke="#111" stroke-width="1.1"/><polygon points="3906.0,114.0 3907.9,117.5 3904.1,117.5" fill="#111"/><line x1="3906.0" y1="222.3" x2="3906.0" y2="198.5" stroke="#111" stroke-width="1.1"/><polygon points="3906.0,195.0 3907.9,198.5 3904.1,198.5" fill="#111"/><line x1="3969.0" y1="259.3" x2="3974.5" y2="259.3" stroke="#111" stroke-width="1.1"/><polygon points="3977.5,259.3 3974.5,260.9 3974.5,257.7" fill="#111"/><line x1="4040.4" y1="259.3" x2="4050.3" y2="259.3" stroke="#111" stroke-width="1.1"/><polygon points="4053.3,259.3 4050.3,260.9 4050.3,257.7" fill="#111"/><line x1="4116.7" y1="171.5" x2="4127.1" y2="171.5" stroke="#111" stroke-width="1.4"/><polygon points="4130.6,171.5 4127.1,173.4 4127.1,169.6" fill="#111"/><line x1="4243.7" y1="97.5" x2="4251.1" y2="97.5" stroke="#111" stroke-width="1.4"/><polygon points="4254.6,97.5 4251.1,99.4 4251.1,95.6" fill="#111"/><path d="M4141 171 C 4168 166, 4178 140, 4185 108" stroke="#111" stroke-width="1.3" fill="none"/><polygon points="4186.5,103 4182.5,109.5 4188.3,110" fill="#111"/><path d="M4066 240 C 4080 236, 4086 215, 4087 189" stroke="#111" stroke-width="1.3" fill="none"/><polygon points="4087,184.5 4084.2,190.5 4089.8,190.5" fill="#111"/><polygon points="4058,153.2 4087.3,160.5 4116.7,153.2 4116.7,190.2 4087.3,183 4058,190.2" fill="#fdd766" stroke="#f0b01a" stroke-width="1.1"/><polygon points="4186.7,80.6 4215.2,87.5 4243.7,80.6 4243.7,116.2 4215.2,109.3 4186.7,116.2" fill="#f9c8a2" stroke="#d98a55" stroke-width="1.1"/><polygon points="3978,237 4040.4,245.5 4040.4,272.5 3978,281" fill="#fdf1bb" stroke="#edc23e" stroke-width="1.1"/><polygon points="4032,155 4040.4,151.4 4040.4,189 4032,192.7" fill="#f5a190" stroke="#c9554b" stroke-width="0.8"/><polygon points="4131,153 4145.5,148.8 4145.5,186 4131,190.2" fill="#fde78c" stroke="#eec34a" stroke-width="0.8"/><rect x="4135.5" y="165" width="6.5" height="12" fill="#f3a37a"/></svg>
<div class="ab" style="left:21.5px;width:400px;text-align:center;top:116.7px;font-family:'Liberation Serif',serif;font-size:8.65px;line-height:10.38px;height:10.38px;white-space:nowrap;color:#000;">Zoom in</div>
<div class="ab" style="left:18.7px;width:400px;text-align:center;top:199.4px;font-family:'Liberation Serif',serif;font-size:8.65px;line-height:10.38px;height:10.38px;white-space:nowrap;color:#000;">Zoom in</div>
<div class="ab" style="left:197.9px;width:400px;text-align:center;top:199.4px;font-family:'Liberation Serif',serif;font-size:8.65px;line-height:10.38px;height:10.38px;white-space:nowrap;color:#000;">Zoom in</div>
<div class="ab" style="left:252.0px;width:400px;text-align:center;top:113.1px;font-family:'Liberation Serif',serif;font-size:8.65px;line-height:10.38px;height:10.38px;white-space:nowrap;color:#000;">Zoom in</div>
<div class="ab" style="left:397.5px;width:400px;text-align:center;top:123.5px;font-family:'Liberation Serif',serif;font-size:8.6px;line-height:10.32px;height:10.32px;white-space:nowrap;color:#000;">Align-back</div>
<div class="ab" style="left:397.5px;width:400px;text-align:center;top:204.0px;font-family:'Liberation Serif',serif;font-size:8.6px;line-height:10.32px;height:10.32px;white-space:nowrap;color:#000;">Align-back</div>
<div class="ab" style="left:129.5px;width:400px;text-align:center;top:135.7px;font-family:'Liberation Serif',serif;font-size:8.6px;line-height:10.32px;height:10.32px;white-space:nowrap;font-weight:bold;color:#d02424;">Prompting Layer</div>
<div class="ab" style="left:227.4px;width:400px;text-align:center;top:135.7px;font-family:'Liberation Serif',serif;font-size:8.6px;line-height:10.32px;height:10.32px;white-space:nowrap;font-weight:bold;color:#000;">Confidence Map</div>
<div class="ab" style="left:179.3px;width:400px;text-align:center;top:165.9px;font-family:'Liberation Serif',serif;font-size:10.6px;line-height:12.72px;height:12.72px;white-space:nowrap;font-weight:bold;color:#000;">Object-Net</div>
<div class="ab" style="left:307.2px;width:400px;text-align:center;top:92.2px;font-family:'Liberation Serif',serif;font-size:10.6px;line-height:12.72px;height:12.72px;white-space:nowrap;font-weight:bold;color:#000;">Detail-Net</div>
<div class="ab" style="left:101.0px;width:400px;text-align:center;top:253.9px;font-family:'Liberation Serif',serif;font-size:10.6px;line-height:12.72px;height:12.72px;white-space:nowrap;font-weight:bold;color:#000;">Context-Net</div>
<div class="ab" style="left:393.7px;width:400px;text-align:center;top:69.1px;font-family:'Liberation Serif',serif;font-size:8.7px;line-height:10.44px;height:10.44px;white-space:nowrap;font-weight:bold;color:#000;">Detail Mask/Matte</div>
<div class="ab" style="left:425.6px;width:400px;text-align:center;top:159.1px;font-family:'Liberation Serif',serif;font-size:8.6px;line-height:10.32px;height:10.32px;white-space:nowrap;font-weight:bold;color:#000;">Primitive</div>
<div class="ab" style="left:425.6px;width:400px;text-align:center;top:170.3px;font-family:'Liberation Serif',serif;font-size:8.6px;line-height:10.32px;height:10.32px;white-space:nowrap;font-weight:bold;color:#000;">Mask</div>
<div class="ab" style="left:375.0px;width:400px;text-align:center;top:295.0px;font-family:'Liberation Serif',serif;font-size:8.8px;line-height:10.56px;height:10.56px;white-space:nowrap;font-weight:bold;color:#000;">Final Mask</div>
<div class="ab " style="left:155.0px;top:83.0px;width:87.4px;height:30.6px;border:1px dashed #b5b5b5;box-sizing:border-box;background:#fff"></div>
<div class="ab " style="left:157.9px;top:86.6px;width:23.0px;height:22.7px;background:radial-gradient(ellipse 40% 50% at 30% 60%, #f2f2f2 0%, rgba(240,240,240,0) 100%), linear-gradient(135deg,#1d2433,#4a4a52);"></div>
<div class="ab " style="left:183.8px;top:86.6px;width:23.3px;height:22.7px;background:radial-gradient(ellipse 30% 45% at 55% 55%, #6a5040 0%, rgba(100,80,60,0) 100%), linear-gradient(#c9b3a3,#e0d2c4);"></div>
<div class="ab" style="left:12.2px;width:400px;text-align:center;top:93.8px;font-family:'Liberation Serif',serif;font-size:7px;line-height:8.40px;height:8.40px;white-space:nowrap;color:#000;">···</div>
<div class="ab " style="left:217.2px;top:86.6px;width:22.3px;height:22.7px;background:radial-gradient(ellipse 40% 40% at 55% 62%, #7a4a30 0%, rgba(120,70,40,0) 100%), linear-gradient(#7f9cc4,#b7c6d6);"></div>
<div class="ab " style="left:144.0px;top:149.6px;width:108.0px;height:44.9px;border:1px dashed #b5b5b5;box-sizing:border-box;background:#fff"></div>
<div class="ab " style="left:148.3px;top:153.1px;width:49.3px;height:5.7px;background:#f4a292;font-family:'Liberation Serif',serif;font-size:5.6px;line-height:5.7px;text-align:center;color:#222;white-space:nowrap;overflow:hidden">Previous Mask</div>
<div class="ab " style="left:148.3px;top:160.6px;width:49.3px;height:5.7px;background:#f4a292;font-family:'Liberation Serif',serif;font-size:5.6px;line-height:5.7px;text-align:center;color:#222;white-space:nowrap;overflow:hidden">Click</div>
<div class="ab " style="left:148.3px;top:168.1px;width:49.3px;height:5.7px;background:#f4a292;font-family:'Liberation Serif',serif;font-size:5.6px;line-height:5.7px;text-align:center;color:#222;white-space:nowrap;overflow:hidden">Scribble</div>
<div class="ab " style="left:148.3px;top:175.6px;width:49.3px;height:5.7px;background:#f4a292;font-family:'Liberation Serif',serif;font-size:5.6px;line-height:5.7px;text-align:center;color:#222;white-space:nowrap;overflow:hidden">Box</div>
<div class="ab " style="left:148.3px;top:183.1px;width:49.3px;height:5.7px;background:#f4a292;font-family:'Liberation Serif',serif;font-size:5.6px;line-height:5.7px;text-align:center;color:#222;white-space:nowrap;overflow:hidden">Coarse Mask</div>
<svg class="ab" style="left:201.0px;top:152.4px" width="47.5" height="37.8" viewBox="3909.0 152.4 47.5 37.8"><svg x="3909" y="152.4" width="47.5" height="37.8" viewBox="3909 152.4 47.5 37.8" overflow="hidden"><defs><linearGradient id="g8" x1="0" y1="0" x2="0" y2="1"><stop offset="0" stop-color="#3f72c2"/><stop offset="0.38" stop-color="#a7c2e4"/><stop offset="0.385" stop-color="#2f4a2a"/><stop offset="0.52" stop-color="#3d5634"/><stop offset="0.525" stop-color="#d4c2aa"/><stop offset="1" stop-color="#e2d4c2"/></linearGradient></defs><rect x="3909" y="152.4" width="47.5" height="37.8" fill="url(#g8)"/><ellipse cx="3916.1" cy="155.4" rx="3.8" ry="1.5" fill="#ffffff" opacity="0.75"/><ellipse cx="3924.7" cy="154.7" rx="3.3" ry="1.3" fill="#ffffff" opacity="0.75"/><ellipse cx="3935.1" cy="156.2" rx="4.3" ry="1.5" fill="#ffffff" opacity="0.75"/><ellipse cx="3942.2" cy="155.4" rx="2.4" ry="1.1" fill="#ffffff" opacity="0.75"/><ellipse cx="3918.5" cy="160.7" rx="3.3" ry="1.1" fill="#ffffff" opacity="0.75"/><ellipse cx="3937.5" cy="160.7" rx="2.4" ry="1.1" fill="#ffffff" opacity="0.75"/><ellipse cx="3951.8" cy="160.0" rx="2.4" ry="1.1" fill="#ffffff" opacity="0.75"/><ellipse cx="3946.1" cy="161.8" rx="1.9" ry="0.9" fill="#ffffff" opacity="0.75"/><rect x="3932.6" y="172.1" width="1.2" height="18.1" fill="#e8ece8"/><rect x="3939.2" y="172.1" width="1.2" height="18.1" fill="#e8ece8"/><line x1="3927.8" y1="177.7" x2="3934.4" y2="191.0" stroke="#f2f2f2" stroke-width="0.94"/><line x1="3928.8" y1="181.5" x2="3934.9" y2="194.0" stroke="#9fbf9a" stroke-width="0.76"/><g transform="translate(3913.00,154.00) scale(41.00,41.82)"><ellipse cx="0.45" cy="0.33" rx="0.3" ry="0.12" fill="#98502a"/><polygon points="0.65,0.3 0.78,0.13 0.9,0.1 0.97,0.16 0.88,0.22 0.78,0.36" fill="#98502a"/><polygon points="0.68,0.36 0.82,0.42 0.88,0.38 0.9,0.41 0.8,0.48 0.64,0.42" fill="#98502a"/><polygon points="0.22,0.36 0.1,0.48 0.03,0.53 0,0.5 0.08,0.42 0.18,0.3" fill="#98502a"/><polygon points="0.16,0.28 0.02,0.33 0.04,0.37 0.18,0.33" fill="#98502a"/><polygon points="0.47,0.05 0.58,0.05 0.6,0.24 0.48,0.25" fill="#f2f2f2"/><polygon points="0.49,0.05 0.57,0.05 0.57,0.15 0.49,0.15" fill="#1d2740"/><circle cx="0.53" cy="0.025" r="0.035" fill="#1d2740"/><polygon points="0.5,0.23 0.6,0.23 0.62,0.36 0.55,0.36" fill="#1d2740"/></g></svg></svg>
<div class="ab " style="left:134.5px;top:222.3px;width:126.5px;height:73.0px;border:1px dashed #b5b5b5;box-sizing:border-box;background:#fff"></div>
<svg class="ab" style="left:138.0px;top:225.1px" width="120.2" height="68.4" viewBox="3846.0 225.1 120.2 68.4"><svg x="3846" y="225.1" width="120.2" height="68.4" viewBox="3846 225.1 120.2 68.4" overflow="hidden"><defs><linearGradient id="g9" x1="0" y1="0" x2="0" y2="1"><stop offset="0" stop-color="#3f72c2"/><stop offset="0.30" stop-color="#a7c2e4"/><stop offset="0.305" stop-color="#2f4a2a"/><stop offset="0.42" stop-color="#3d5634"/><stop offset="0.425" stop-color="#d4c2aa"/><stop offset="1" stop-color="#e2d4c2"/></linearGradient></defs><rect x="3846" y="225.1" width="120.2" height="68.4" fill="url(#g9)"/><ellipse cx="3864.0" cy="230.6" rx="9.6" ry="2.7" fill="#ffffff" opacity="0.75"/><ellipse cx="3885.7" cy="229.2" rx="8.4" ry="2.4" fill="#ffffff" opacity="0.75"/><ellipse cx="3912.1" cy="231.9" rx="10.8" ry="2.7" fill="#ffffff" opacity="0.75"/><ellipse cx="3930.1" cy="230.6" rx="6.0" ry="2.1" fill="#ffffff" opacity="0.75"/><ellipse cx="3870.0" cy="240.1" rx="8.4" ry="2.1" fill="#ffffff" opacity="0.75"/><ellipse cx="3918.1" cy="240.1" rx="6.0" ry="2.1" fill="#ffffff" opacity="0.75"/><ellipse cx="3954.2" cy="238.8" rx="6.0" ry="2.1" fill="#ffffff" opacity="0.75"/><ellipse cx="3939.8" cy="242.2" rx="4.8" ry="1.7" fill="#ffffff" opacity="0.75"/><rect x="3882.1" y="253.8" width="3.0" height="39.7" fill="#e8ece8"/><rect x="3898.9" y="253.8" width="3.0" height="39.7" fill="#e8ece8"/><line x1="3870.1" y1="264.1" x2="3886.9" y2="288.0" stroke="#f2f2f2" stroke-width="1.71"/><line x1="3872.5" y1="270.9" x2="3888.1" y2="293.5" stroke="#9fbf9a" stroke-width="1.37"/><rect x="3948.8" y="257.9" width="7.2" height="10.9" fill="#f0e8e4"/><circle cx="3952.4" cy="263.4" r="3.0" fill="#d23a3a"/><circle cx="3952.4" cy="263.4" r="1.2" fill="#f0e8e4"/><ellipse cx="3902.5" cy="286.7" rx="8.4" ry="6.8" fill="#4a7a36"/><g transform="translate(3857.00,232.98) scale(55.00,52.80)"><ellipse cx="0.45" cy="0.33" rx="0.3" ry="0.12" fill="#98502a"/><polygon points="0.65,0.3 0.78,0.13 0.9,0.1 0.97,0.16 0.88,0.22 0.78,0.36" fill="#98502a"/><polygon points="0.68,0.36 0.82,0.42 0.88,0.38 0.9,0.41 0.8,0.48 0.64,0.42" fill="#98502a"/><polygon points="0.22,0.36 0.1,0.48 0.03,0.53 0,0.5 0.08,0.42 0.18,0.3" fill="#98502a"/><polygon points="0.16,0.28 0.02,0.33 0.04,0.37 0.18,0.33" fill="#98502a"/><polygon points="0.47,0.05 0.58,0.05 0.6,0.24 0.48,0.25" fill="#f2f2f2"/><polygon points="0.49,0.05 0.57,0.05 0.57,0.15 0.49,0.15" fill="#1d2740"/><circle cx="0.53" cy="0.025" r="0.035" fill="#1d2740"/><polygon points="0.5,0.23 0.6,0.23 0.62,0.36 0.55,0.36" fill="#1d2740"/></g></svg></svg>
<div class="ab " style="left:345.7px;top:227.6px;width:16.9px;height:63.0px;border:1px dashed #b5b5b5;box-sizing:border-box;"></div>
<div class="ab " style="left:350.4px;top:230.5px;width:7.9px;height:7.4px;background:#fdf5d5;border:0.8px solid #8a7a40;box-sizing:border-box"></div>
<div class="ab " style="left:350.4px;top:240.3px;width:7.9px;height:7.4px;background:#f4b400;border:0.8px solid #8a7a40;box-sizing:border-box"></div>
<div class="ab " style="left:350.4px;top:250.1px;width:7.9px;height:7.4px;background:#f4b400;border:0.8px solid #8a7a40;box-sizing:border-box"></div>
<div class="ab " style="left:350.4px;top:259.9px;width:7.9px;height:7.4px;background:#fdf5d5;border:0.8px solid #8a7a40;box-sizing:border-box"></div>
<div class="ab " style="left:350.4px;top:269.7px;width:7.9px;height:7.4px;background:#fdf5d5;border:0.8px solid #8a7a40;box-sizing:border-box"></div>
<div class="ab " style="left:350.4px;top:279.5px;width:7.9px;height:7.4px;background:#fdf5d5;border:0.8px solid #8a7a40;box-sizing:border-box"></div>
<div class="ab " style="left:547.0px;top:82.5px;width:88.0px;height:31.1px;border:1px dashed #b5b5b5;box-sizing:border-box;background:#fff"></div>
<div class="ab " style="left:550.6px;top:87.0px;width:22.4px;height:22.5px;background:radial-gradient(ellipse 45% 50% at 45% 50%, #e02020 0%, #e33 60%, rgba(230,60,60,0) 100%), #a8b0b8;"></div>
<div class="ab " style="left:577.0px;top:87.0px;width:22.4px;height:22.5px;background:radial-gradient(ellipse 30% 50% at 50% 45%, #e02020 0%, rgba(230,60,60,0) 100%), linear-gradient(#d8cfc8,#c2b8ae);"></div>
<div class="ab" style="left:404.5px;width:400px;text-align:center;top:94.8px;font-family:'Liberation Serif',serif;font-size:7px;line-height:8.40px;height:8.40px;white-space:nowrap;color:#000;">···</div>
<div class="ab " style="left:609.8px;top:87.0px;width:22.5px;height:22.5px;background:radial-gradient(ellipse 50% 40% at 55% 62%, #e02020 0%, rgba(230,60,60,0) 100%), linear-gradient(#8eb0d8,#c8d2dc);"></div>
<svg class="ab" style="left:545.0px;top:145.4px" width="60.7" height="47.6" viewBox="4253.0 145.4 60.7 47.6"><svg x="4253" y="145.4" width="60.7" height="47.6" viewBox="4253 145.4 60.7 47.6" overflow="hidden"><defs><linearGradient id="g10" x1="0" y1="0" x2="0" y2="1"><stop offset="0" stop-color="#3f72c2"/><stop offset="0.35" stop-color="#a7c2e4"/><stop offset="0.355" stop-color="#2f4a2a"/><stop offset="0.50" stop-color="#3d5634"/><stop offset="0.505" stop-color="#d4c2aa"/><stop offset="1" stop-color="#e2d4c2"/></linearGradient></defs><rect x="4253" y="145.4" width="60.7" height="47.6" fill="url(#g10)"/><ellipse cx="4262.1" cy="149.2" rx="4.9" ry="1.9" fill="#ffffff" opacity="0.75"/><ellipse cx="4273.0" cy="148.3" rx="4.2" ry="1.7" fill="#ffffff" opacity="0.75"/><ellipse cx="4286.4" cy="150.2" rx="5.5" ry="1.9" fill="#ffffff" opacity="0.75"/><ellipse cx="4295.5" cy="149.2" rx="3.0" ry="1.4" fill="#ffffff" opacity="0.75"/><ellipse cx="4265.1" cy="155.9" rx="4.2" ry="1.4" fill="#ffffff" opacity="0.75"/><ellipse cx="4289.4" cy="155.9" rx="3.0" ry="1.4" fill="#ffffff" opacity="0.75"/><ellipse cx="4307.6" cy="154.9" rx="3.0" ry="1.4" fill="#ffffff" opacity="0.75"/><ellipse cx="4300.3" cy="157.3" rx="2.4" ry="1.2" fill="#ffffff" opacity="0.75"/><rect x="4282.8" y="169.2" width="1.5" height="23.8" fill="#e8ece8"/><rect x="4291.3" y="169.2" width="1.5" height="23.8" fill="#e8ece8"/><line x1="4276.7" y1="176.3" x2="4285.2" y2="193.0" stroke="#f2f2f2" stroke-width="1.19"/><line x1="4277.9" y1="181.1" x2="4285.8" y2="196.8" stroke="#9fbf9a" stroke-width="0.95"/><rect x="4304.9" y="168.2" width="3.6" height="7.6" fill="#f0e8e4"/><circle cx="4306.7" cy="172.1" r="1.5" fill="#d23a3a"/><circle cx="4306.7" cy="172.1" r="0.6" fill="#f0e8e4"/><ellipse cx="4293.1" cy="188.2" rx="4.2" ry="4.8" fill="#4a7a36"/><g transform="translate(4257.00,146.69) scale(54.00,70.20)"><ellipse cx="0.45" cy="0.34" rx="0.36" ry="0.15" fill="#e82525"/><polygon points="0.6,0.25 0.76,0.1 0.92,0.06 1.0,0.16 0.88,0.25 0.8,0.42" fill="#e82525"/><polygon points="0.62,0.36 0.84,0.42 0.9,0.36 0.95,0.42 0.82,0.53 0.6,0.47" fill="#e82525"/><polygon points="0.25,0.36 0.12,0.5 0.05,0.55 0.0,0.5 0.08,0.4 0.18,0.28" fill="#e82525"/><polygon points="0.44,0.03 0.62,0.03 0.64,0.28 0.44,0.3" fill="#e82525"/><circle cx="0.53" cy="0.02" r="0.05" fill="#e82525"/><polygon points="0.48,0.25 0.64,0.25 0.66,0.45 0.52,0.45" fill="#e82525"/></g></svg></svg>
<svg class="ab" style="left:515.0px;top:224.9px" width="120.0" height="70.4" viewBox="4223.0 224.9 120.0 70.4"><svg x="4223" y="224.9" width="120.0" height="70.4" viewBox="4223 224.9 120.0 70.4" overflow="hidden"><defs><linearGradient id="g11" x1="0" y1="0" x2="0" y2="1"><stop offset="0" stop-color="#3f72c2"/><stop offset="0.30" stop-color="#a7c2e4"/><stop offset="0.305" stop-color="#2f4a2a"/><stop offset="0.42" stop-color="#3d5634"/><stop offset="0.425" stop-color="#d4c2aa"/><stop offset="1" stop-color="#e2d4c2"/></linearGradient></defs><rect x="4223" y="224.9" width="120.0" height="70.4" fill="url(#g11)"/><ellipse cx="4241.0" cy="230.5" rx="9.6" ry="2.8" fill="#ffffff" opacity="0.75"/><ellipse cx="4262.6" cy="229.1" rx="8.4" ry="2.5" fill="#ffffff" opacity="0.75"/><ellipse cx="4289.0" cy="231.9" rx="10.8" ry="2.8" fill="#ffffff" opacity="0.75"/><ellipse cx="4307.0" cy="230.5" rx="6.0" ry="2.1" fill="#ffffff" opacity="0.75"/><ellipse cx="4247.0" cy="240.4" rx="8.4" ry="2.1" fill="#ffffff" opacity="0.75"/><ellipse cx="4295.0" cy="240.4" rx="6.0" ry="2.1" fill="#ffffff" opacity="0.75"/><ellipse cx="4331.0" cy="239.0" rx="6.0" ry="2.1" fill="#ffffff" opacity="0.75"/><ellipse cx="4316.6" cy="242.5" rx="4.8" ry="1.8" fill="#ffffff" opacity="0.75"/><rect x="4262.6" y="254.5" width="3.0" height="40.8" fill="#e8ece8"/><rect x="4279.4" y="254.5" width="3.0" height="40.8" fill="#e8ece8"/><line x1="4250.6" y1="265.0" x2="4267.4" y2="289.7" stroke="#f2f2f2" stroke-width="1.76"/><line x1="4253.0" y1="272.1" x2="4268.6" y2="295.3" stroke="#9fbf9a" stroke-width="1.41"/><rect x="4325.6" y="258.7" width="7.2" height="11.3" fill="#f0e8e4"/><circle cx="4329.2" cy="264.3" r="3.0" fill="#d23a3a"/><circle cx="4329.2" cy="264.3" r="1.2" fill="#f0e8e4"/><ellipse cx="4283.0" cy="288.3" rx="8.4" ry="7.0" fill="#4a7a36"/><g transform="translate(4243.50,234.04) scale(43.00,58.05)"><ellipse cx="0.45" cy="0.34" rx="0.36" ry="0.15" fill="#e82525"/><polygon points="0.6,0.25 0.76,0.1 0.92,0.06 1.0,0.16 0.88,0.25 0.8,0.42" fill="#e82525"/><polygon points="0.62,0.36 0.84,0.42 0.9,0.36 0.95,0.42 0.82,0.53 0.6,0.47" fill="#e82525"/><polygon points="0.25,0.36 0.12,0.5 0.05,0.55 0.0,0.5 0.08,0.4 0.18,0.28" fill="#e82525"/><polygon points="0.44,0.03 0.62,0.03 0.64,0.28 0.44,0.3" fill="#e82525"/><circle cx="0.53" cy="0.02" r="0.05" fill="#e82525"/><polygon points="0.48,0.25 0.64,0.25 0.66,0.45 0.52,0.45" fill="#e82525"/></g></svg></svg>
<div class="ab " style="left:655.0px;top:68.2px;width:165.0px;height:118.5px;border:1px dashed #b8b8b8;border-radius:8px;box-sizing:border-box"></div>
<div class="ab" style="left:557.0px;width:400px;text-align:center;top:70.1px;font-family:'Liberation Serif',serif;font-size:11.8px;line-height:14.16px;height:14.16px;white-space:nowrap;font-weight:bold;color:#9a9a9a;">Object-Net</div>
<div class="ab" style="left:660.5px;top:72.9px;font-family:'Liberation Serif',serif;font-size:4.6px;line-height:5.52px;height:5.52px;white-space:nowrap;font-weight:bold;color:#000;">Bi-map</div>
<div class="ab" style="left:509.5px;width:400px;text-align:center;top:85.4px;font-family:'Liberation Serif',serif;font-size:4.6px;line-height:5.52px;height:5.52px;white-space:nowrap;font-weight:bold;color:#d02424;">Prompting</div>
<div class="ab" style="left:509.5px;width:400px;text-align:center;top:91.4px;font-family:'Liberation Serif',serif;font-size:4.6px;line-height:5.52px;height:5.52px;white-space:nowrap;font-weight:bold;color:#d02424;">Layer</div>
<div class="ab" style="left:472.7px;width:400px;text-align:center;top:168.2px;font-family:'Liberation Serif',serif;font-size:4.6px;line-height:5.52px;height:5.52px;white-space:nowrap;font-weight:bold;color:#000;">Image</div>
<div class="ab" style="left:472.7px;width:400px;text-align:center;top:174.5px;font-family:'Liberation Serif',serif;font-size:4.6px;line-height:5.52px;height:5.52px;white-space:nowrap;font-weight:bold;color:#000;">Patch</div>
<div class="ab" style="left:545.0px;width:400px;text-align:center;top:176.4px;font-family:'Liberation Serif',serif;font-size:4.8px;line-height:5.76px;height:5.76px;white-space:nowrap;font-weight:bold;color:#000;">Context Feature</div>
<div class="ab " style="left:721.5px;top:159.4px;width:45.0px;height:15.0px;border:0.8px dashed #b0b0b0;box-sizing:border-box"></div>
<svg class="ab" style="left:652.0px;top:65.0px" width="170.0" height="125.0" viewBox="4360.0 65.0 170.0 125.0"><polygon points="4368.7,88 4378,84.4 4378,116 4368.7,119.6" fill="#f4f4f4" stroke="#666" stroke-width="0.5"/><polygon points="4376,90 4385.6,86.4 4385.6,118.3 4376,121.9" fill="#f7f7f7" stroke="#666" stroke-width="0.5"/><circle cx="4381" cy="95" r="1.3" fill="#2a9a5a"/><circle cx="4379.5" cy="110" r="1.3" fill="#2a9a5a"/><defs><linearGradient id="ipg" x1="0" y1="0" x2="0" y2="1"><stop offset="0" stop-color="#5d86c8"/><stop offset="0.35" stop-color="#a9c2e2"/><stop offset="0.4" stop-color="#3e5a32"/><stop offset="0.5" stop-color="#d8c8b2"/><stop offset="1" stop-color="#e4d8c8"/></linearGradient></defs><polygon points="4368.7,121 4390.5,116 4390.5,162 4368.7,166.9" fill="url(#ipg)"/><ellipse cx="4379" cy="138" rx="8" ry="5" fill="#9a5430"/><polygon points="4377,124 4381,123 4382,134 4377,135" fill="#eeeeee"/><polygon points="4399.5,92.5 4408,90.7 4408,108.7 4399.5,106.9" fill="#f39a8a" stroke="#c9554b" stroke-width="0.5"/><line x1="4385.6" y1="95.0" x2="4396.8" y2="95.0" stroke="#111" stroke-width="0.7"/><polygon points="4399.0,95.0 4396.8,96.2 4396.8,93.8" fill="#111"/><polyline points="4408.0,99.5 4421.0,99.5" stroke="#111" stroke-width="0.7" fill="none"/><line x1="4421.0" y1="99.5" x2="4421.0" y2="121.8" stroke="#111" stroke-width="0.7"/><polygon points="4421.0,124.0 4419.8,121.8 4422.2,121.8" fill="#111"/><polygon points="4399.5,118 4443.7,124.5 4443.7,148 4399.5,154.5" fill="#fde27a" stroke="#e2ae22" stroke-width="0.9"/><rect x="4404.0" y="124.0" width="3.5" height="24.0" fill="#fff1b8"/><rect x="4411.8" y="124.9" width="3.5" height="22.4" fill="#fff1b8"/><rect x="4419.6" y="125.8" width="3.5" height="20.8" fill="#fff1b8"/><rect x="4427.4" y="126.7" width="3.5" height="19.2" fill="#fff1b8"/><rect x="4435.2" y="127.6" width="3.5" height="17.6" fill="#fff1b8"/><line x1="4390.5" y1="136" x2="4399.5" y2="136" stroke="#111" stroke-width="0.7"/><rect x="4449" y="124.5" width="6.7" height="23.5" fill="#fde27a" stroke="#e2ae22" stroke-width="0.8"/><rect x="4460.6" y="124.5" width="26.3" height="23.5" fill="#fde27a" stroke="#e2ae22" stroke-width="0.8"/><rect x="4464.0" y="127.5" width="3.5" height="17.5" fill="#fff1b8"/><rect x="4472.0" y="127.5" width="3.5" height="17.5" fill="#fff1b8"/><rect x="4480.0" y="127.5" width="3.5" height="17.5" fill="#fff1b8"/><line x1="4443.7" y1="136" x2="4449" y2="136" stroke="#111" stroke-width="0.7"/><line x1="4455.7" y1="136" x2="4460.6" y2="136" stroke="#111" stroke-width="0.7"/><line x1="4486.9" y1="136.0" x2="4491.8" y2="136.0" stroke="#111" stroke-width="0.7"/><polygon points="4494.0,136.0 4491.8,137.2 4491.8,134.8" fill="#111"/><line x1="4452.0" y1="159.4" x2="4452.0" y2="150.7" stroke="#111" stroke-width="0.7"/><polygon points="4452.0,148.5 4453.2,150.7 4450.8,150.7" fill="#111"/><rect x="4432.0" y="162" width="8" height="8.5" fill="#fde27a" stroke="#c9a020" stroke-width="0.5"/><rect x="4442.5" y="162" width="8" height="8.5" fill="#fde27a" stroke="#c9a020" stroke-width="0.5"/><rect x="4453.0" y="162" width="8" height="8.5" fill="#fde27a" stroke="#c9a020" stroke-width="0.5"/><rect x="4463.5" y="162" width="8" height="8.5" fill="#fde27a" stroke="#c9a020" stroke-width="0.5"/><polygon points="4494,118 4515,112.5 4515,152.5 4494,158" fill="url(#ipg)"/><polygon points="4496,132 4502,124 4508,122 4513,128 4512,146 4503,149 4497,146" fill="#e02424"/></svg>
<div class="ab " style="left:655.0px;top:200.6px;width:165.0px;height:96.4px;border:1px dashed #b8b8b8;border-radius:8px;box-sizing:border-box"></div>
<div class="ab" style="left:561.0px;width:400px;text-align:center;top:203.2px;font-family:'Liberation Serif',serif;font-size:11.8px;line-height:14.16px;height:14.16px;white-space:nowrap;font-weight:bold;color:#9a9a9a;">Detail-Net</div>
<div class="ab" style="left:658.5px;top:202.9px;font-family:'Liberation Serif',serif;font-size:4.6px;line-height:5.52px;height:5.52px;white-space:nowrap;font-weight:bold;color:#000;">Tri-map concat Patch</div>
<svg class="ab" style="left:652.0px;top:200.0px" width="170.0" height="100.0" viewBox="4360.0 200.0 170.0 100.0"><polygon points="4372.5,215.0 4382,212.0 4382,229.0 4372.5,232.0" fill="#e8e8e8" stroke="#777" stroke-width="0.5"/><polygon points="4381,215.0 4391.2,212.0 4391.2,229.0 4381,232.0" fill="#5a4a40"/><polygon points="4372.5,240.0 4382,237.0 4382,254.0 4372.5,257.0" fill="#e8e8e8" stroke="#777" stroke-width="0.5"/><polygon points="4381,240.0 4391.2,237.0 4391.2,254.0 4381,257.0" fill="#c8b0a0"/><polygon points="4372.5,265.0 4382,262.0 4382,279.0 4372.5,282.0" fill="#e8e8e8" stroke="#777" stroke-width="0.5"/><polygon points="4381,265.0 4391.2,262.0 4391.2,279.0 4381,282.0" fill="#8aa0c0"/><polygon points="4407,226.9 4443.7,238 4443.7,262 4407,273" fill="#f9c8a6" stroke="#333" stroke-width="0.8"/><polygon points="4448,238 4483.9,226.9 4483.9,273 4448,262" fill="#f9c8a6" stroke="#333" stroke-width="0.8"/><rect x="4411.0" y="231.0" width="3.5" height="37.0" fill="#fde3d2"/><rect x="4452.0" y="237.6" width="3.5" height="24.0" fill="#fde3d2"/><rect x="4419.0" y="233.2" width="3.5" height="32.6" fill="#fde3d2"/><rect x="4460.0" y="235.4" width="3.5" height="28.4" fill="#fde3d2"/><rect x="4427.0" y="235.4" width="3.5" height="28.2" fill="#fde3d2"/><rect x="4468.0" y="233.2" width="3.5" height="32.8" fill="#fde3d2"/><rect x="4435.0" y="237.6" width="3.5" height="23.8" fill="#fde3d2"/><rect x="4476.0" y="231.0" width="3.5" height="37.2" fill="#fde3d2"/><polyline points="4418.0,232.0 4418.0,225.5 4473.0,225.5" stroke="#111" stroke-width="0.6" fill="none"/><line x1="4473.0" y1="225.5" x2="4473.0" y2="230.7" stroke="#111" stroke-width="0.6"/><polygon points="4473.0,232.5 4472.0,230.7 4474.0,230.7" fill="#111"/><polyline points="4425.0,231.5 4425.0,229.0 4466.0,229.0" stroke="#111" stroke-width="0.6" fill="none"/><line x1="4466.0" y1="229.0" x2="4466.0" y2="230.2" stroke="#111" stroke-width="0.6"/><polygon points="4466.0,232.0 4465.0,230.2 4467.0,230.2" fill="#111"/><polyline points="4432.0,231.0 4432.0,232.5 4459.0,232.5" stroke="#111" stroke-width="0.6" fill="none"/><line x1="4459.0" y1="232.5" x2="4459.0" y2="233.3" stroke="#111" stroke-width="0.6"/><polygon points="4459.0,231.5 4460.0,233.3 4458.0,233.3" fill="#111"/><line x1="4391.2" y1="250" x2="4407" y2="250" stroke="#111" stroke-width="0.7"/><line x1="4483.9" y1="250.0" x2="4506.3" y2="250.0" stroke="#111" stroke-width="0.7"/><polygon points="4508.5,250.0 4506.3,251.2 4506.3,248.8" fill="#111"/><polygon points="4509.4,215.0 4520.6,213.0 4520.6,231.0 4509.4,233.0" fill="#d8d8dc"/><polygon points="4511,218.0 4519,216.0 4519,229.0 4511,231.0" fill="#e02424"/><polygon points="4509.4,240.0 4520.6,238.0 4520.6,256.0 4509.4,258.0" fill="#d8d8dc"/><polygon points="4511,243.0 4519,241.0 4519,254.0 4511,256.0" fill="#e02424"/><polygon points="4509.4,265.0 4520.6,263.0 4520.6,281.0 4509.4,283.0" fill="#d8d8dc"/><polygon points="4511,268.0 4519,266.0 4519,279.0 4511,281.0" fill="#e02424"/></svg>
<div class="b " style="left:73.00px;top:311.40px;width:711.94px;font-size:13.902px;line-height:15.020px;transform:scaleX(1.097);transform-origin:0 0;">
<div id="t363" class="j" style="letter-spacing:-0.199px;"><b>Fig. 3: The extended framework of FocalClick-XL .</b> The overall pipeline is decomposed into three stages that individually focus</div>
<div id="t364" class="j" style="letter-spacing:0.023px;">on context-, object-, and detail-level information. First, the full image is fed into the Context-Net to extract the global feature.</div>
<div id="t365" class="j" style="letter-spacing:0.117px;">Afterward, the global feature is zoomed in around the target object (based on the previous segmentation results). The image</div>
<div id="t366" class="j" style="letter-spacing:0.074px;">patches around the object and the user-interaction embeddings are sent into the Object-Net to get a primitive mask. Next, we</div>
<div id="t367" class="j" style="letter-spacing:-0.074px;">zoom in on the low-confidence local regions of the primitive masks into the Detail-Net to refine the prediction. At last, we align</div>
<div id="t368" class="l">back the detail mask and the primitive mask to the full image.</div>
</div>
<div class="h2" style="left:73.5px;top:427.40px;font-size:14.4px;line-height:18px"><span style="display:inline-block;width:35px">4.1</span>Structure Decomposition</div>
<div class="b " style="left:73.00px;top:450.20px;width:347.77px;font-size:14.403px;line-height:17.450px;transform:scaleX(1.097);transform-origin:0 0;">
<div id="t369" class="j" style="letter-spacing:0.350px;">We introduce the detailed model structures of the</div>
<div id="t370" class="j" style="letter-spacing:-0.061px;">FocalClick-XL. The pipeline is split into three meta-steps to</div>
<div id="t371" class="j" style="letter-spacing:0.048px;">focus on the information from context-, object-, and detail-</div>
<div id="t372" class="l">level.</div>
<div id="t373" class="j" style="margin-top:0.50px;letter-spacing:0.350px;"><b>Context-Net.</b> The main objective of the Context-Net is</div>
<div id="t374" class="j" style="letter-spacing:0.350px;">to understand complicated scenes and distinguish the</div>
<div id="t375" class="j" style="letter-spacing:0.303px;">potential objects from the background. In the design, the</div>
<div id="t376" class="j" style="letter-spacing:0.075px;">Context-Net harnesses the weights from the SAM Encoder</div>
<div id="t377" class="j" style="letter-spacing:0.298px;">to capitalize on the robust ability of scene understanding</div>
<div id="t378" class="j" style="letter-spacing:-0.055px;">and object priors. To adapt the SAM encoder, we integrate a</div>
<div id="t379" class="j" style="letter-spacing:0.104px;">learnable adapter after each transformer layer. Our adapter</div>
<div id="t380" class="j" style="letter-spacing:0.350px;">layers are designed as bottlenecks consisting of “Conv-</div>
<div id="t381" class="j" style="letter-spacing:-0.051px;">GeLU-Conv”. The convolutional layers reduce the channels</div>
<div id="t382" class="j" style="letter-spacing:0.350px;">of the feature map and the GeLU activation introduces</div>
<div id="t383" class="j" style="letter-spacing:0.079px;">the non-linearities. Commencing from the second round of</div>
<div id="t384" class="j" style="letter-spacing:0.254px;">interactions, we compute the Region of Interest (RoI) for</div>
<div id="t385" class="j" style="letter-spacing:0.223px;">the target object using predicted masks from the previous</div>
<div id="t386" class="j" style="letter-spacing:-0.018px;">round. Subsequently, we employ RoI-Align [<span class=cb>56</span>] to crop the</div>
<div id="t387" class="j" style="letter-spacing:-0.033px;">RoI from the SAM features, preparing for feature fusion for</div>
<div id="t388" class="l">the Object-Net.</div>
<div id="t389" class="j" style="margin-top:0.50px;letter-spacing:0.350px;"><b>Object-Net.</b> It encodes the provided interactions to seg-</div>
<div id="t390" class="j" style="letter-spacing:0.347px;">ment the user-intended parts. The structure follows Seg-</div>
<div id="t391" class="j" style="letter-spacing:-0.029px;">Former [<span class=cb>50</span>]. The Object-Net receives the zoomed-in region</div>
<div id="t392" class="j" style="letter-spacing:0.080px;">of the full image and interaction maps as inputs. It extracts</div>
<div id="t393" class="j" style="letter-spacing:0.275px;">target-centric features endowed with intricate details and</div>
<div id="t394" class="j" style="letter-spacing:0.324px;">facilitates early fusion between interaction maps and the</div>
<div id="t395" class="j">image. This early fusion significantly amplifies the model’s</div>
<div id="t396" class="j" style="letter-spacing:-0.013px;">controllability in modifying the fined details with excessive</div>
<div id="t397" class="j" style="letter-spacing:0.350px;">user interactions. The Object-Net also receives the RoI-</div>
<div id="t398" class="j" style="letter-spacing:0.350px;">Aligned features from the Context-Net, we perform an</div>
<div id="t399" class="j" style="letter-spacing:0.350px;">elementwise addition to fuse the target-centric feature</div>
<div id="t400" class="j" style="letter-spacing:0.302px;">extracted by the Object-Net with the RoI-aligned feature</div>
<div id="t401" class="j" style="letter-spacing:0.227px;">from Context-Net. This fused feature aims to encapsulate</div>
<div id="t402" class="j" style="letter-spacing:0.303px;">both global and local perspectives. Subsequently, we de-</div>
<div id="t403" class="j" style="letter-spacing:0.324px;">code the fused feature for the primitive mask prediction.</div>
<div id="t404" class="j" style="letter-spacing:-0.044px;">Specifically, a multi-layer perceptron (MLP) is employed to</div>
<div id="t405" class="j" style="letter-spacing:-0.024px;">generate a one-channel binary mask. Notably, this primitive</div>
<div id="t406" class="j" style="letter-spacing:-0.019px;">mask has already exhibited competitive performance across</div>
<div id="t407" class="j" style="letter-spacing:0.114px;">various datasets. Throughout the training phase, we utilize</div>
</div>
<div class="b " style="left:472.00px;top:428.30px;width:347.77px;font-size:14.403px;line-height:17.450px;transform:scaleX(1.097);transform-origin:0 0;">
<div id="t408" class="j" style="letter-spacing:0.261px;">normalized focal loss to supervise the primitive mask for</div>
<div id="t409" class="j" style="letter-spacing:0.199px;">click-based interactive segmentation. The Object-Net and</div>
<div id="t410" class="j" style="letter-spacing:-0.058px;">the adapter layers of the Context-Net are optimized together</div>
<div id="t411" class="l">on object-centric samples.</div>
<div id="t412" class="j" style="margin-top:0.40px;letter-spacing:0.027px;"><b>Detail-Net.</b> This module further refines the low confidence</div>
<div id="t413" class="j" style="letter-spacing:0.287px;">of the primitive mask of the Object-Net to produce high-</div>
<div id="t414" class="j" style="letter-spacing:0.348px;">quality masks. The Detail-Net is designed as a universal</div>
<div id="t415" class="j" style="letter-spacing:0.350px;">module that could act as a plug-in to support different</div>
<div id="t416" class="j" style="letter-spacing:0.097px;">user interactions. Inspired by image matting methods [<span class=cb>57</span>],</div>
<div id="t417" class="j" style="letter-spacing:0.146px;">[<span class=cb>58</span>], Detail-Net takes a “tri-map” along with the image as</div>
<div id="t418" class="j" style="letter-spacing:-0.028px;">input. The tri-map consists of a high-confidence foreground</div>
<div id="t419" class="j" style="letter-spacing:0.350px;">mask, a high-confidence background mask, and a mask</div>
<div id="t420" class="j" style="letter-spacing:0.116px;">for the low-confidence regions. The positive/negative user</div>
<div id="t421" class="j" style="letter-spacing:0.236px;">interactions and the high-confidence part of the primitive</div>
<div id="t422" class="j" style="letter-spacing:0.154px;">mask predicted by the Object-Net are merged to act as the</div>
<div id="t423" class="j" style="letter-spacing:0.134px;">tri-maps. After zooming in on the target object for Object-</div>
<div id="t424" class="j" style="letter-spacing:0.160px;">Net, the input of the Detail-Net is magnified again around</div>
<div id="t425" class="j" style="letter-spacing:0.155px;">the uncertain region to capture more details. The structure</div>
<div id="t426" class="j" style="letter-spacing:-0.164px;">of Detail-Net is a U-shape network with a MobileNetV2 [<span class=cb>59</span>]</div>
<div id="t427" class="j" style="letter-spacing:0.072px;">as the encoder. We collect large numbers of data from both</div>
<div id="t428" class="j" style="letter-spacing:-0.260px;">the segmentation dataset [<span class=cb>60</span>], [<span class=cb>61</span>], [<span class=cb>62</span>], [<span class=cb>63</span>], [<span class=cb>64</span>], [<span class=cb>65</span>], [<span class=cb>66</span>],</div>
<div id="t429" class="j" style="letter-spacing:0.141px;">[<span class=cb>67</span>] and the image matting dataset [<span class=cb>58</span>], [<span class=cb>68</span>], [<span class=cb>69</span>] to train</div>
<div id="t430" class="j" style="letter-spacing:-0.205px;">the Detail-Net. Use leverage MSE Loss to force Detail-Net to</div>
<div id="t431" class="j" style="letter-spacing:-0.136px;">predict the transparency value of the object. Thus, by forcing</div>
<div id="t432" class="j" style="letter-spacing:0.350px;">Detail-Net to learn the alpha value for the transparent</div>
<div id="t433" class="j" style="letter-spacing:0.279px;">parts like the hairs and fur, it is equipped with the ability</div>
<div id="t434" class="j" style="letter-spacing:0.265px;">to capture finer details by producing the alpha-matte. We</div>
<div id="t435" class="j" style="letter-spacing:-0.115px;">could simply use a threshold of 0.5 to binarize the prediction</div>
<div id="t436" class="l">to give segmentation masks.</div>
</div>
<div class="h2" style="left:472.5px;top:951.50px;font-size:14.4px;line-height:18px"><span style="display:inline-block;width:35px">4.2</span>Progressive Magnification</div>
<div class="b " style="left:472.00px;top:974.60px;width:347.77px;font-size:14.403px;line-height:17.450px;transform:scaleX(1.097);transform-origin:0 0;">
<div id="t437" class="j" style="letter-spacing:0.350px;">The cascaded subnets bring extra burden for the compu-</div>
<div id="t438" class="j" style="letter-spacing:0.345px;">tation and inference speed. To mitigate this problem, we</div>
<div id="t439" class="j" style="letter-spacing:-0.039px;">propose a progressive magnification strategy to increase the</div>
<div id="t440" class="l">efficiency of our pipeline.</div>
<div id="t441" class="j" style="text-indent:20.054694621695532px;margin-top:0.10px;letter-spacing:0.069px;">First, we make the heaviest Context-Net as an “offline”</div>
<div id="t442" class="j" style="letter-spacing:0.350px;">extractor. As the Context-Net receives the full image as</div>
<div id="t443" class="j" style="letter-spacing:-0.088px;">input, it models each pixel equally thus irrelevant to the user</div>
<div id="t444" class="j" style="letter-spacing:-0.122px;">interaction. In our pipeline, the Context-Net is executed only</div>
<div id="t445" class="j" style="letter-spacing:0.038px;">once per image and could be pre-executed before receiving</div>
</div>
</div>
</body></html>
